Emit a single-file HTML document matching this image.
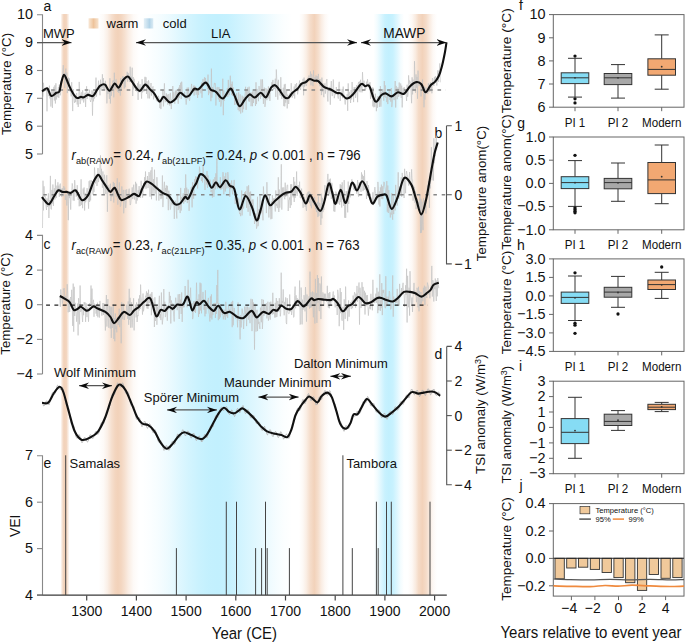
<!DOCTYPE html><html><head><meta charset="utf-8"><style>html,body{margin:0;padding:0;background:#fff;}svg{display:block}text{font-family:"Liberation Sans",sans-serif}</style></head><body><svg width="685" height="643" viewBox="0 0 685 643"><defs><linearGradient id="b1" gradientUnits="userSpaceOnUse" x1="60.5" x2="69.5" y1="0" y2="0"><stop offset="0.0000" stop-color="#f2d2ba" stop-opacity="0.000"/><stop offset="0.1667" stop-color="#f2d2ba" stop-opacity="0.500"/><stop offset="0.3000" stop-color="#f2d2ba" stop-opacity="0.900"/><stop offset="0.4778" stop-color="#f2d2ba" stop-opacity="1.000"/><stop offset="0.6667" stop-color="#f2d2ba" stop-opacity="0.900"/><stop offset="0.8111" stop-color="#f2d2ba" stop-opacity="0.500"/><stop offset="1.0000" stop-color="#f2d2ba" stop-opacity="0.000"/></linearGradient><linearGradient id="b2" gradientUnits="userSpaceOnUse" x1="98.5" x2="139" y1="0" y2="0"><stop offset="0.0000" stop-color="#f2d2ba" stop-opacity="0.000"/><stop offset="0.1235" stop-color="#f2d2ba" stop-opacity="0.120"/><stop offset="0.2222" stop-color="#f2d2ba" stop-opacity="0.350"/><stop offset="0.3210" stop-color="#f2d2ba" stop-opacity="0.700"/><stop offset="0.4074" stop-color="#f2d2ba" stop-opacity="0.920"/><stop offset="0.4765" stop-color="#f2d2ba" stop-opacity="1.000"/><stop offset="0.5556" stop-color="#f2d2ba" stop-opacity="0.920"/><stop offset="0.6420" stop-color="#f2d2ba" stop-opacity="0.700"/><stop offset="0.7407" stop-color="#f2d2ba" stop-opacity="0.400"/><stop offset="0.8642" stop-color="#f2d2ba" stop-opacity="0.120"/><stop offset="1.0000" stop-color="#f2d2ba" stop-opacity="0.000"/></linearGradient><linearGradient id="b3" gradientUnits="userSpaceOnUse" x1="142" x2="292" y1="0" y2="0"><stop offset="0.0000" stop-color="#c2f0fe" stop-opacity="0.000"/><stop offset="0.0533" stop-color="#c2f0fe" stop-opacity="0.060"/><stop offset="0.1200" stop-color="#c2f0fe" stop-opacity="0.170"/><stop offset="0.1867" stop-color="#c2f0fe" stop-opacity="0.330"/><stop offset="0.2400" stop-color="#c2f0fe" stop-opacity="0.500"/><stop offset="0.3067" stop-color="#c2f0fe" stop-opacity="0.700"/><stop offset="0.3733" stop-color="#c2f0fe" stop-opacity="0.860"/><stop offset="0.4400" stop-color="#c2f0fe" stop-opacity="0.970"/><stop offset="0.5067" stop-color="#c2f0fe" stop-opacity="1.000"/><stop offset="0.5733" stop-color="#c2f0fe" stop-opacity="0.950"/><stop offset="0.6267" stop-color="#c2f0fe" stop-opacity="0.820"/><stop offset="0.6933" stop-color="#c2f0fe" stop-opacity="0.660"/><stop offset="0.7600" stop-color="#c2f0fe" stop-opacity="0.500"/><stop offset="0.8267" stop-color="#c2f0fe" stop-opacity="0.330"/><stop offset="0.8800" stop-color="#c2f0fe" stop-opacity="0.190"/><stop offset="0.9400" stop-color="#c2f0fe" stop-opacity="0.070"/><stop offset="1.0000" stop-color="#c2f0fe" stop-opacity="0.000"/></linearGradient><linearGradient id="b4" gradientUnits="userSpaceOnUse" x1="299" x2="329" y1="0" y2="0"><stop offset="0.0000" stop-color="#f2d2ba" stop-opacity="0.000"/><stop offset="0.1333" stop-color="#f2d2ba" stop-opacity="0.150"/><stop offset="0.2500" stop-color="#f2d2ba" stop-opacity="0.400"/><stop offset="0.3667" stop-color="#f2d2ba" stop-opacity="0.750"/><stop offset="0.5100" stop-color="#f2d2ba" stop-opacity="1.000"/><stop offset="0.6333" stop-color="#f2d2ba" stop-opacity="0.750"/><stop offset="0.7500" stop-color="#f2d2ba" stop-opacity="0.400"/><stop offset="0.8667" stop-color="#f2d2ba" stop-opacity="0.150"/><stop offset="1.0000" stop-color="#f2d2ba" stop-opacity="0.000"/></linearGradient><linearGradient id="b5" gradientUnits="userSpaceOnUse" x1="373.5" x2="404" y1="0" y2="0"><stop offset="0.0000" stop-color="#c2f0fe" stop-opacity="0.000"/><stop offset="0.1148" stop-color="#c2f0fe" stop-opacity="0.200"/><stop offset="0.2459" stop-color="#c2f0fe" stop-opacity="0.550"/><stop offset="0.3770" stop-color="#c2f0fe" stop-opacity="0.900"/><stop offset="0.5082" stop-color="#c2f0fe" stop-opacity="1.000"/><stop offset="0.6393" stop-color="#c2f0fe" stop-opacity="0.900"/><stop offset="0.7705" stop-color="#c2f0fe" stop-opacity="0.550"/><stop offset="0.8852" stop-color="#c2f0fe" stop-opacity="0.200"/><stop offset="1.0000" stop-color="#c2f0fe" stop-opacity="0.000"/></linearGradient><linearGradient id="b6" gradientUnits="userSpaceOnUse" x1="408" x2="437" y1="0" y2="0"><stop offset="0.0000" stop-color="#f2d2ba" stop-opacity="0.000"/><stop offset="0.1379" stop-color="#f2d2ba" stop-opacity="0.150"/><stop offset="0.2586" stop-color="#f2d2ba" stop-opacity="0.450"/><stop offset="0.3621" stop-color="#f2d2ba" stop-opacity="0.800"/><stop offset="0.4931" stop-color="#f2d2ba" stop-opacity="1.000"/><stop offset="0.6207" stop-color="#f2d2ba" stop-opacity="0.800"/><stop offset="0.7414" stop-color="#f2d2ba" stop-opacity="0.450"/><stop offset="0.8621" stop-color="#f2d2ba" stop-opacity="0.150"/><stop offset="1.0000" stop-color="#f2d2ba" stop-opacity="0.000"/></linearGradient><linearGradient id="gleg_o" x1="0" x2="1"><stop offset="0" stop-color="#f0cba5" stop-opacity="0.45"/><stop offset="0.5" stop-color="#eec39b"/><stop offset="1" stop-color="#f0cba5" stop-opacity="0.55"/></linearGradient><linearGradient id="gleg_b" x1="0" x2="1"><stop offset="0" stop-color="#bcd9ea" stop-opacity="0.4"/><stop offset="0.6" stop-color="#b3d4e8"/><stop offset="1" stop-color="#bcd9ea" stop-opacity="0.5"/></linearGradient><marker id="ah" viewBox="0 0 10 7" refX="10" refY="3.5" markerWidth="10" markerHeight="7" markerUnits="userSpaceOnUse" orient="auto-start-reverse"><path d="M0,0.2 L10,3.5 L0,6.8 L3.2,3.5 Z" fill="#0a0a0a"/></marker></defs><rect width="685" height="643" fill="#fff"/><rect x="60.5" y="14" width="9" height="581" fill="url(#b1)"/><rect x="98.5" y="14" width="40.5" height="581" fill="url(#b2)"/><rect x="142" y="14" width="150" height="581" fill="url(#b3)"/><rect x="299" y="14" width="30" height="581" fill="url(#b4)"/><rect x="373.5" y="14" width="30.5" height="581" fill="url(#b5)"/><rect x="408" y="14" width="29" height="581" fill="url(#b6)"/><rect x="88.5" y="18.3" width="10" height="10.2" fill="url(#gleg_o)"/><rect x="143.8" y="18.3" width="9.5" height="10.2" fill="url(#gleg_b)"/><g font-family="Liberation Sans, sans-serif" fill="#111"><path d="M37,14.8H42.5V154" fill="none" stroke="#888" stroke-width="1.1"/><text transform="translate(33 19.3) scale(1 1.05)" font-size="14.4" text-anchor="end" >10</text><path d="M37,42.6H42.5" stroke="#888" stroke-width="1.1"/><text transform="translate(33 47.1) scale(1 1.05)" font-size="14.4" text-anchor="end" >9</text><path d="M37,70.5H42.5" stroke="#888" stroke-width="1.1"/><text transform="translate(33 75) scale(1 1.05)" font-size="14.4" text-anchor="end" >8</text><path d="M37,98.3H42.5" stroke="#888" stroke-width="1.1"/><text transform="translate(33 102.8) scale(1 1.05)" font-size="14.4" text-anchor="end" >7</text><path d="M37,126.2H42.5" stroke="#888" stroke-width="1.1"/><text transform="translate(33 130.7) scale(1 1.05)" font-size="14.4" text-anchor="end" >6</text><path d="M37,154H42.5" stroke="#888" stroke-width="1.1"/><text transform="translate(33 158.5) scale(1 1.05)" font-size="14.4" text-anchor="end" >5</text><text transform="translate(43.4 11.4) scale(1 1.05)" font-size="14" text-anchor="start" >a</text><text x="10.8" y="84" font-size="13.3" text-anchor="middle" transform="rotate(-90 10.8 84)">Temperature (°C)</text><path d="M42.5,97.7L43,96.1L43.5,82.8L44,92L44.5,89.6L45,89.5L45.5,88.4L46,88.1L46.5,90L47,111.3L47.5,88L47.9,90.3L48.4,91.9L48.9,96.2L49.4,85.7L49.9,98.4L50.4,94.8L50.9,106.5L51.4,96.2L51.9,90.3L52.4,107.9L52.9,91.5L53.4,95L53.9,86.8L54.4,100.5L54.9,85.3L55.4,103.5L55.9,83.3L56.4,99.5L56.9,91.4L57.4,95.9L57.9,97.3L58.4,87.1L58.8,97.8L59.3,84.7L59.8,90.8L60.3,95.3L60.8,84.7L61.3,79.8L61.8,83.2L62.3,78.8L62.8,70.8L63.3,65.1L63.8,77.2L64.3,73.3L64.8,88L65.3,74.4L65.8,68.6L66.3,83.7L66.8,72.5L67.3,93.1L67.8,82.3L68.3,77.5L68.8,86.4L69.3,78.4L69.7,87.5L70.2,91.6L70.7,88.8L71.2,96.3L71.7,82.2L72.2,94.4L72.7,111.1L73.2,89L73.7,95.8L74.2,100.3L74.7,103L75.2,97.7L75.7,102L76.2,94.6L76.7,93.1L77.2,104.5L77.7,96.9L78.2,107L78.7,102.1L79.2,81.9L79.7,90.8L80.2,104.1L80.6,101.4L81.1,92.7L81.6,92.3L82.1,100.3L82.6,90.3L83.1,94.1L83.6,102.5L84.1,99.8L84.6,97.8L85.1,92.8L85.6,107L86.1,92.4L86.6,86.3L87.1,99L87.6,92.9L88.1,92.7L88.6,94.2L89.1,93.5L89.6,89.7L90.1,99.2L90.6,102L91,100L91.5,99.4L92,90.3L92.5,115.6L93,91.5L93.5,101.3L94,91.4L94.5,98.5L95,96.7L95.5,89.8L96,77.6L96.5,96.6L97,91L97.5,90.6L98,88.5L98.5,80.7L99,86.8L99.5,90.1L100,95.3L100.5,79.7L101,89.3L101.5,84.7L101.9,87.2L102.4,74.3L102.9,88.5L103.4,78.1L103.9,89.7L104.4,84.8L104.9,89.6L105.4,80.8L105.9,87.2L106.4,84.6L106.9,103.4L107.4,90.8L107.9,94L108.4,88.3L108.9,91.6L109.4,99L109.9,78.2L110.4,103.5L110.9,85.4L111.4,95.8L111.9,86.3L112.4,87.4L112.8,81L113.3,80.3L113.8,97.4L114.3,72.7L114.8,88.5L115.3,89.3L115.8,79.7L116.3,79.3L116.8,84.9L117.3,90.6L117.8,91.8L118.3,85.8L118.8,93L119.3,83.7L119.8,83.4L120.3,95.6L120.8,78.1L121.3,90.8L121.8,80L122.3,84L122.8,76.2L123.3,80.6L123.7,76.8L124.2,88.5L124.7,78.9L125.2,87.3L125.7,77.6L126.2,76L126.7,79.1L127.2,71.8L127.7,81.7L128.2,72.9L128.7,79.1L129.2,76L129.7,82.1L130.2,66.7L130.7,81.9L131.2,76.6L131.7,80.6L132.2,67.7L132.7,96L133.2,77.1L133.7,89.4L134.1,78.8L134.6,87.5L135.1,87.1L135.6,85.3L136.1,87.5L136.6,91.3L137.1,90.9L137.6,83.1L138.1,99.9L138.6,81.5L139.1,92.4L139.6,87.1L140.1,84.2L140.6,88.8L141.1,90.9L141.6,98.6L142.1,79.2L142.6,92.4L143.1,86.1L143.6,91.1L144.1,91.5L144.6,79.6L145,76.8L145.5,86.4L146,77.3L146.5,93.9L147,81.2L147.5,88.7L148,98.4L148.5,80.3L149,82.6L149.5,98.4L150,93.6L150.5,91.1L151,83L151.5,95.6L152,89L152.5,87.9L153,86.4L153.5,99.3L154,90.2L154.5,97L155,97.5L155.5,96.9L155.9,95L156.4,100.7L156.9,99.9L157.4,101.7L157.9,99.1L158.4,95.8L158.9,97.4L159.4,101.2L159.9,108.1L160.4,99.3L160.9,109.1L161.4,103.6L161.9,96.4L162.4,99.3L162.9,90L163.4,106.4L163.9,100.1L164.4,83.4L164.9,98L165.4,102L165.9,102.1L166.3,93.3L166.8,101.4L167.3,94.6L167.8,104.7L168.3,101.9L168.8,94L169.3,99.8L169.8,105.6L170.3,92.8L170.8,99.1L171.3,109.1L171.8,99.6L172.3,102.1L172.8,86L173.3,101.1L173.8,92.3L174.3,98.5L174.8,103.7L175.3,90.7L175.8,96.8L176.3,89.8L176.8,99.9L177.2,91.7L177.7,92.9L178.2,103.8L178.7,87.7L179.2,98.1L179.7,85.1L180.2,92.4L180.7,82.7L181.2,99L181.7,81.7L182.2,88.7L182.7,95.2L183.2,93.9L183.7,94.7L184.2,94.1L184.7,91.8L185.2,98.7L185.7,99.4L186.2,104.6L186.7,98.8L187.2,87.6L187.7,98.6L188.1,93.5L188.6,87.5L189.1,98.9L189.6,100.8L190.1,96L190.6,90L191.1,89.2L191.6,83.9L192.1,90.9L192.6,87.9L193.1,91.7L193.6,85.7L194.1,95.6L194.6,85.7L195.1,86.2L195.6,86.7L196.1,94.7L196.6,93.7L197.1,88.5L197.6,98L198.1,91L198.6,95L199,87.9L199.5,90.4L200,87.6L200.5,88.8L201,93.3L201.5,82.6L202,97.8L202.5,86.7L203,78.9L203.5,85.8L204,85.4L204.5,77.3L205,83.5L205.5,77.9L206,85.7L206.5,81.9L207,81.5L207.5,89.2L208,74.6L208.5,95.1L209,84.7L209.4,87.9L209.9,93.3L210.4,89.7L210.9,101.2L211.4,68.6L211.9,97.7L212.4,87.1L212.9,92.8L213.4,90.9L213.9,87L214.4,82.9L214.9,84.3L215.4,83.5L215.9,105.5L216.4,92.6L216.9,87.4L217.4,87.2L217.9,92.6L218.4,99.3L218.9,87.1L219.4,101.9L219.9,93.2L220.3,89.6L220.8,106.6L221.3,104.7L221.8,98.4L222.3,99.2L222.8,78.7L223.3,115.2L223.8,90.4L224.3,100.8L224.8,96.8L225.3,94.7L225.8,97.1L226.3,91.9L226.8,93.9L227.3,88.2L227.8,96.8L228.3,79.9L228.8,93.7L229.3,95.1L229.8,90L230.3,75.7L230.8,89.3L231.2,84L231.7,94.9L232.2,81.6L232.7,96L233.2,87.3L233.7,92.9L234.2,94.7L234.7,105L235.2,96.8L235.7,96.9L236.2,104.7L236.7,93.2L237.2,104.6L237.7,98.8L238.2,110.1L238.7,92.3L239.2,111.3L239.7,109.3L240.2,94.3L240.7,113.5L241.2,107.7L241.7,105.6L242.1,95.6L242.6,112.4L243.1,96.6L243.6,109.2L244.1,97.3L244.6,98.2L245.1,93.5L245.6,86.8L246.1,109.9L246.6,89.7L247.1,97.7L247.6,87.5L248.1,89L248.6,101.3L249.1,86.7L249.6,101.7L250.1,92.9L250.6,92.7L251.1,106.2L251.6,96.3L252.1,92.2L252.5,106.2L253,90.7L253.5,103L254,95.6L254.5,98.8L255,90.8L255.5,106L256,82.3L256.5,104.1L257,88.9L257.5,97.2L258,93.7L258.5,101.2L259,86.1L259.5,89.8L260,91.3L260.5,98.8L261,79.4L261.5,95.5L262,96.8L262.5,79.4L263,94.7L263.4,103.9L263.9,93.3L264.4,87.6L264.9,106.9L265.4,104L265.9,88.3L266.4,90.5L266.9,100.2L267.4,89.5L267.9,96.7L268.4,86.4L268.9,98.5L269.4,88.5L269.9,100.9L270.4,89.6L270.9,87.8L271.4,85.4L271.9,82.2L272.4,86.3L272.9,79.9L273.4,89.5L273.9,85.5L274.3,89L274.8,84.7L275.3,78.7L275.8,96.9L276.3,69.5L276.8,80.4L277.3,81.8L277.8,99.7L278.3,79.8L278.8,90L279.3,89.2L279.8,94.9L280.3,95.7L280.8,77.2L281.3,91.3L281.8,98.9L282.3,94.8L282.8,93.4L283.3,87.7L283.8,106.1L284.3,84.5L284.8,106.4L285.2,83.9L285.7,102.6L286.2,97L286.7,89.6L287.2,108.4L287.7,94.6L288.2,98.3L288.7,104L289.2,97.4L289.7,93.5L290.2,94.6L290.7,97.1L291.2,83.2L291.7,89.5L292.2,97.6L292.7,95.6L293.2,90.9L293.7,95.8L294.2,86.5L294.7,98.5L295.2,84.2L295.6,86.2L296.1,88.4L296.6,83.1L297.1,88.7L297.6,94.4L298.1,91.3L298.6,89.6L299.1,84.2L299.6,80.5L300.1,89.2L300.6,90L301.1,83.6L301.6,83.9L302.1,86.5L302.6,84L303.1,78.8L303.6,95.3L304.1,77.6L304.6,86.7L305.1,80.1L305.6,81.7L306.1,85.8L306.5,85.7L307,82.7L307.5,80.6L308,77.5L308.5,77.4L309,75.4L309.5,79.8L310,81.3L310.5,71.5L311,85.3L311.5,73.9L312,74.9L312.5,80.4L313,86.1L313.5,70.4L314,80.5L314.5,80.6L315,77L315.5,80.7L316,75.4L316.5,83L317,76.2L317.4,76.7L317.9,79.7L318.4,73.9L318.9,82.7L319.4,79.1L319.9,86.2L320.4,79.7L320.9,79.3L321.4,95.1L321.9,77.6L322.4,91.5L322.9,83.2L323.4,94.9L323.9,97.2L324.4,84.8L324.9,83.4L325.4,93.6L325.9,87.5L326.4,81.4L326.9,79L327.4,95.1L327.9,101.5L328.3,88.3L328.8,91L329.3,90L329.8,86.8L330.3,104.7L330.8,88L331.3,81.1L331.8,93.1L332.3,96.1L332.8,90.9L333.3,79.5L333.8,90.4L334.3,98.2L334.8,95.2L335.3,93.2L335.8,94.5L336.3,87L336.8,92.9L337.3,92.9L337.8,96.7L338.3,98.6L338.7,84.8L339.2,81.8L339.7,89.1L340.2,101L340.7,94.9L341.2,96.1L341.7,94.8L342.2,88.9L342.7,98.2L343.2,86.6L343.7,92.5L344.2,96.2L344.7,100.5L345.2,104.5L345.7,99L346.2,99.6L346.7,99.4L347.2,94.1L347.7,110.8L348.2,83.4L348.7,96.9L349.2,91.8L349.6,98.8L350.1,97L350.6,103L351.1,90L351.6,99.4L352.1,82L352.6,93.3L353.1,91.4L353.6,102.1L354.1,87.2L354.6,90.5L355.1,87L355.6,97.9L356.1,93.4L356.6,85L357.1,85.8L357.6,102.2L358.1,84.4L358.6,81.9L359.1,91.4L359.6,81.5L360.1,92.3L360.5,79.8L361,87.3L361.5,86L362,92.4L362.5,72.2L363,83.6L363.5,84.3L364,80.7L364.5,84.7L365,89.9L365.5,87.8L366,88.5L366.5,81.7L367,85.9L367.5,79.2L368,83.9L368.5,84.2L369,83.3L369.5,87.1L370,82.2L370.5,98.9L371,91.9L371.4,88.2L371.9,97.3L372.4,87.5L372.9,106.4L373.4,87.8L373.9,107.3L374.4,99.1L374.9,106.9L375.4,93.7L375.9,100.1L376.4,111.2L376.9,102L377.4,107.8L377.9,96.3L378.4,98.2L378.9,96.3L379.4,106.9L379.9,102.3L380.4,86.1L380.9,106.7L381.4,91.8L381.8,96.2L382.3,94.3L382.8,89L383.3,94.4L383.8,100.7L384.3,81L384.8,96.9L385.3,85.4L385.8,97.8L386.3,96.9L386.8,102.1L387.3,93.9L387.8,104.1L388.3,94L388.8,93.1L389.3,91.2L389.8,99.8L390.3,97.2L390.8,101.7L391.3,88L391.8,107.1L392.3,103.4L392.7,98.4L393.2,96.4L393.7,97.8L394.2,100.1L394.7,94.6L395.2,81L395.7,107.5L396.2,85.9L396.7,90.9L397.2,99.2L397.7,87.7L398.2,87.4L398.7,96.8L399.2,82.5L399.7,90.2L400.2,95.7L400.7,83.5L401.2,98L401.7,85.7L402.2,107.4L402.7,90.9L403.2,87.9L403.6,93.4L404.1,87.2L404.6,87.8L405.1,94.7L405.6,91.4L406.1,94.4L406.6,100.9L407.1,84.7L407.6,96.8L408.1,94.6L408.6,75.4L409.1,84.6L409.6,80.5L410.1,81.6L410.6,83.1L411.1,91.9L411.6,103.2L412.1,77.3L412.6,94.4L413.1,79.6L413.6,90.4L414.1,90.8L414.5,61.2L415,84.2L415.5,92.7L416,74.4L416.5,87.7L417,76.9L417.5,98.7L418,70.6L418.5,81.6L419,86L419.5,81L420,81.2L420.5,82.5L421,96.5L421.5,85L422,84.3L422.5,79.5L423,90.8L423.5,87.7L424,107.3L424.5,86.6L424.9,99.6L425.4,91.4L425.9,87.5L426.4,93.5L426.9,91.8L427.4,93.4L427.9,93.8L428.4,83.3L428.9,92L429.4,86.1L429.9,91.7L430.4,82.2L430.9,90.7L431.4,85.1L431.9,93.3L432.4,78.1L432.9,79.3L433.4,84.4L433.9,86L434.4,77.1L434.9,80.7L435.4,76.1L435.8,79.2L436.3,78L436.8,85.5L437.3,78.5L437.8,70.3L438.3,82L438.8,70.8L439.3,72.7L439.8,63.4L440.3,82.3" fill="none" stroke="#c4c4c4" stroke-width="0.7"/><path d="M42.5,90H446" stroke="#888" stroke-width="1.6" stroke-dasharray="3.6,4.8" stroke-dashoffset="-0.2"/><path d="M42,91.4C42.9,90.9 45.7,87.5 47.2,88.3C48.7,89 49.7,95.2 51.2,95.9C52.7,96.7 54.9,93.5 56.3,92.8C57.7,92 58.5,93.3 59.4,91.4C60.3,89.5 60.7,84.4 61.5,81.6C62.3,78.8 63.2,75.1 64.1,74.8C64.9,74.5 65.7,77.5 66.6,79.5C67.5,81.5 68.6,84.5 69.6,86.7C70.6,88.9 71.5,90.9 72.7,92.8C73.9,94.7 75.4,97.2 76.8,97.9C78.2,98.6 79.7,97 80.9,96.9C82.1,96.8 82.7,97.6 83.9,97.3C85.1,97 86.5,95.1 88,94.9C89.5,94.7 91.6,96.8 93.1,95.9C94.6,95 96,91.4 97.2,89.7C98.4,88 99,86.6 100.3,85.7C101.6,84.8 103.5,83.8 105,84.6C106.5,85.4 107.9,91 109.5,90.8C111.1,90.6 113.1,84.1 114.6,83.6C116.1,83.1 117.3,88.2 118.7,87.7C120.1,87.2 121.3,82.4 122.8,80.5C124.3,78.6 126.4,76.3 127.9,76.5C129.4,76.7 130.6,79.7 132,81.6C133.4,83.5 134.8,86.2 136.1,87.7C137.4,89.2 138.6,91.3 140.1,90.8C141.6,90.3 143.6,84.8 145.3,84.6C147,84.4 148.9,88.2 150.4,89.7C151.9,91.2 153,91.8 154.5,93.8C156,95.8 158.1,101.1 159.6,101.6C161.1,102.1 161.9,96.8 163.6,96.9C165.3,97 167.9,102 169.8,102.4C171.7,102.9 173.2,101.2 174.9,99.6C176.6,98 178.4,93.3 180.1,92.8C181.8,92.3 183.7,96 185.2,96.5C186.7,97 187.8,96.8 189.3,95.5C190.8,94.2 192.9,89.7 194.4,88.7C195.9,87.7 196.6,90.3 198.5,89.3C200.4,88.3 203.6,82.5 205.7,82.6C207.8,82.7 209.1,88.2 210.8,89.7C212.5,91.2 213.9,90.3 215.9,91.8C217.9,93.3 220.6,99 223,98.5C225.4,98 228.3,89.3 230.2,88.7C232.1,88.1 232.8,92 234.3,94.9C235.8,97.8 237.7,105.2 239.4,106.1C241.1,106.9 242.8,102 244.5,100C246.2,98 247.9,94.8 249.6,94.4C251.3,94 252.8,97.8 254.7,97.5C256.6,97.2 258.9,92.8 260.8,92.8C262.7,92.8 264.2,98.1 265.9,97.3C267.6,96.5 269.6,89.7 271.1,87.7C272.6,85.7 273.8,84.9 275.1,85.2C276.5,85.5 277.7,87.8 279.2,89.7C280.7,91.7 282.8,95.5 284.3,96.9C285.8,98.3 287,98.6 288.4,97.9C289.8,97.2 291,94.3 292.5,92.8C294,91.3 296.1,90.2 297.6,88.7C299.1,87.2 300.3,84.7 301.7,83.6C303.1,82.5 304.5,83 305.8,82.2C307.1,81.5 308.1,79.3 309.5,79.1C310.9,78.8 312.7,80.4 314.1,80.7C315.6,81 316.5,80 318.2,81.1C319.9,82.2 322.3,85.8 324.3,87.2C326.3,88.6 328.3,88.3 330.4,89.3C332.4,90.2 334.9,92.2 336.6,92.9C338.3,93.6 339,92.5 340.7,93.4C342.4,94.3 344.8,98.3 346.8,98.5C348.8,98.7 350.5,96.8 352.9,94.4C355.3,92 359.1,85.6 361.1,84.2C363.2,82.8 363.8,85.9 365.2,86.2C366.6,86.5 367.6,83.7 369.3,86.2C371,88.8 373.4,100 375.4,101.5C377.4,103 379.8,96.3 381.5,95C383.2,93.7 383.9,93.2 385.6,93.4C387.3,93.6 389.6,96.6 391.7,96.4C393.8,96.2 395.8,92.7 397.9,92.3C399.9,91.9 402,94.8 404,93.8C406,92.8 408.1,88.2 410.1,86.2C412.2,84.2 414.4,82.4 416.3,82.1C418.2,81.8 419.9,82.5 421.4,84.2C422.9,85.9 424,92.1 425.5,92.3C427,92.5 429.1,86.9 430.6,85.2C432.1,83.5 433.3,83.6 434.7,82.1C436.1,80.6 437.6,78.5 438.8,76C440,73.5 440.8,70.7 441.8,66.8C442.8,62.9 444.1,56.6 444.9,52.5C445.7,48.4 446.2,44 446.5,42.3" fill="none" stroke="#111" stroke-width="2.1" stroke-linejoin="round"/><text transform="translate(43 37.6) scale(1 1.05)" font-size="13" text-anchor="start" >MWP</text><text transform="translate(106.6 27.5) scale(1 1.05)" font-size="13" text-anchor="start" >warm</text><text transform="translate(162.8 27.5) scale(1 1.05)" font-size="13" text-anchor="start" >cold</text><text transform="translate(211 38) scale(1 1.05)" font-size="13" text-anchor="start" >LIA</text><text transform="translate(383.3 37.8) scale(1 1.05)" font-size="13.7" text-anchor="start" >MAWP</text><g stroke="#555" stroke-width="1.25" fill="none"><path d="M37,42.5H71.5" marker-end="url(#ah)"/><path d="M136,42.5H357" marker-start="url(#ah)" marker-end="url(#ah)"/><path d="M361,42.5H446.5" marker-start="url(#ah)" marker-end="url(#ah)"/></g><path d="M446.5,125.8H451.8M446.5,125.8V263.9H451.8M446.5,194.7H451.8" fill="none" stroke="#555" stroke-width="1.1"/><text transform="translate(454.5 130.8) scale(1 1.05)" font-size="14" text-anchor="start" >1</text><text transform="translate(454.5 199.7) scale(1 1.05)" font-size="14" text-anchor="start" >0</text><text transform="translate(454.6 268.9) scale(1 1.05)" font-size="14.2" text-anchor="start" >− 1</text><text transform="translate(434.6 138.3) scale(1 1.05)" font-size="14" text-anchor="start" >b</text><text x="0" y="0" font-size="13.3" text-anchor="middle" transform="translate(486.2 193.5) rotate(-90)">Temperature anom(°C)</text><path d="M42.5,228L43,180.7L43.5,210.4L44,186.3L44.5,196.7L45,196L45.5,196.5L46,206.7L46.5,210L47,198.4L47.5,207L47.9,203.6L48.4,193.4L48.9,218L49.4,200.1L49.9,206.3L50.4,175.9L50.9,208.5L51.4,209.4L51.9,189.9L52.4,203.6L52.9,184.5L53.4,205.9L53.9,193.1L54.4,188.3L54.9,199.5L55.4,179.3L55.9,197.8L56.4,197.8L56.9,185.6L57.4,191.7L57.9,182.3L58.4,191.5L58.8,185.7L59.3,196.8L59.8,185.1L60.3,183.6L60.8,192.9L61.3,188.9L61.8,196.9L62.3,188.2L62.8,191L63.3,196.2L63.8,186.1L64.3,190.4L64.8,187.7L65.3,200L65.8,194.8L66.3,194.6L66.8,205.5L67.3,194.7L67.8,192.8L68.3,220.2L68.8,193.2L69.3,198.1L69.7,192L70.2,197.7L70.7,209.6L71.2,195.1L71.7,191.4L72.2,183.4L72.7,186.2L73.2,200.4L73.7,189.4L74.2,200.7L74.7,180.2L75.2,188.2L75.7,191.9L76.2,196.7L76.7,194.4L77.2,185.2L77.7,191.6L78.2,200L78.7,192L79.2,206.3L79.7,196L80.2,205.9L80.6,197.4L81.1,179.3L81.6,204.9L82.1,199.5L82.6,208.2L83.1,188.6L83.6,194.4L84.1,187.5L84.6,210.5L85.1,192.8L85.6,202.3L86.1,200.6L86.6,199.3L87.1,188.2L87.6,197.6L88.1,198.5L88.6,208.7L89.1,181.2L89.6,202L90.1,180.2L90.6,200.4L91,186.9L91.5,180.4L92,182.5L92.5,181L93,194.6L93.5,179.6L94,191.9L94.5,167.5L95,175.6L95.5,183.4L96,180.8L96.5,178L97,186L97.5,177.8L98,168L98.5,182.1L99,177.7L99.5,177.4L100,164.2L100.5,155.4L101,178L101.5,168.8L101.9,178.3L102.4,187.7L102.9,171.5L103.4,184.1L103.9,195.1L104.4,174.7L104.9,181.9L105.4,186.6L105.9,194.1L106.4,176L106.9,175.2L107.4,211.8L107.9,184.9L108.4,192.4L108.9,187.6L109.4,189.1L109.9,187.1L110.4,183.7L110.9,201.1L111.4,194.4L111.9,197L112.4,193L112.8,194.6L113.3,181.9L113.8,202.5L114.3,183L114.8,187.8L115.3,189.2L115.8,192.8L116.3,197.2L116.8,185.4L117.3,178.3L117.8,204.7L118.3,190.5L118.8,198.6L119.3,182.4L119.8,194L120.3,206.6L120.8,205.5L121.3,198.9L121.8,186.4L122.3,193.5L122.8,200.7L123.3,189.9L123.7,213.3L124.2,203.1L124.7,197.8L125.2,189.8L125.7,207.9L126.2,203.3L126.7,189.3L127.2,197.3L127.7,198.3L128.2,197.4L128.7,190.5L129.2,188.7L129.7,196.1L130.2,205.1L130.7,203.7L131.2,198.9L131.7,195.6L132.2,187.4L132.7,199.1L133.2,189.8L133.7,184.7L134.1,198L134.6,199.5L135.1,191.1L135.6,181.8L136.1,203.7L136.6,183.6L137.1,200.6L137.6,197.1L138.1,190.2L138.6,193.8L139.1,186.1L139.6,193.7L140.1,189.8L140.6,197.8L141.1,180.8L141.6,188.6L142.1,191L142.6,197.6L143.1,192.7L143.6,182.9L144.1,188.3L144.6,177.2L145,187.2L145.5,171.5L146,188.8L146.5,183.8L147,183.9L147.5,176L148,188.1L148.5,183.6L149,172.1L149.5,177.3L150,196.6L150.5,172.5L151,170.3L151.5,199.2L152,167.1L152.5,187L153,193.8L153.5,179.1L154,190.3L154.5,169.7L155,193.7L155.5,186.1L155.9,189L156.4,200.4L156.9,177.2L157.4,187L157.9,188.3L158.4,187.6L158.9,200.6L159.4,190.1L159.9,189.5L160.4,191.6L160.9,199.1L161.4,190L161.9,198.4L162.4,175.5L162.9,207.1L163.4,193.6L163.9,187.3L164.4,181.8L164.9,195.5L165.4,188.1L165.9,191.5L166.3,185.4L166.8,199L167.3,185.8L167.8,192.5L168.3,210.2L168.8,190.7L169.3,196L169.8,197L170.3,209.6L170.8,207.3L171.3,202.2L171.8,204.5L172.3,204.9L172.8,204.7L173.3,200L173.8,201L174.3,218.9L174.8,204.3L175.3,200.7L175.8,203.2L176.3,210.2L176.8,218.5L177.2,194.6L177.7,194.4L178.2,210.1L178.7,205.3L179.2,208.5L179.7,204.1L180.2,213.1L180.7,187.9L181.2,210.6L181.7,197.1L182.2,198.9L182.7,197.3L183.2,193.4L183.7,203.7L184.2,200L184.7,188.3L185.2,201.8L185.7,174.4L186.2,198L186.7,187.7L187.2,203.1L187.7,202.1L188.1,189.4L188.6,192.5L189.1,210.8L189.6,195.9L190.1,193.7L190.6,193.4L191.1,187.3L191.6,186.7L192.1,207.4L192.6,182.3L193.1,194L193.6,198.7L194.1,190.8L194.6,179.1L195.1,185.6L195.6,176.4L196.1,184.2L196.6,176.9L197.1,178.6L197.6,188.5L198.1,180.2L198.6,174.4L199,178.5L199.5,166.6L200,171.5L200.5,175.9L201,176.3L201.5,181L202,177L202.5,182.5L203,164.8L203.5,171.5L204,175.3L204.5,181.1L205,190L205.5,174.8L206,176.7L206.5,184.4L207,171L207.5,187.9L208,175.5L208.5,181.9L209,181.3L209.4,186.7L209.9,179.5L210.4,181.4L210.9,192.1L211.4,191.1L211.9,190L212.4,197.6L212.9,181.3L213.4,179.4L213.9,196.9L214.4,184.6L214.9,177.1L215.4,189.3L215.9,173.3L216.4,186.3L216.9,158.5L217.4,188.6L217.9,182.4L218.4,184.4L218.9,183.7L219.4,187.6L219.9,188.9L220.3,177.2L220.8,189.8L221.3,186.6L221.8,189.1L222.3,188.3L222.8,172.1L223.3,172.7L223.8,194.3L224.3,183.3L224.8,176.3L225.3,191.5L225.8,172.8L226.3,187.7L226.8,188.4L227.3,187L227.8,172.1L228.3,176.5L228.8,187.9L229.3,183.7L229.8,196.9L230.3,183.3L230.8,189L231.2,183.3L231.7,180.4L232.2,191.2L232.7,194.4L233.2,187.3L233.7,184.8L234.2,179.9L234.7,192.9L235.2,203.9L235.7,193.9L236.2,193.9L236.7,201.6L237.2,206.5L237.7,197.6L238.2,208.7L238.7,198.7L239.2,210.9L239.7,214.1L240.2,213L240.7,216.2L241.2,203.1L241.7,190.5L242.1,215.4L242.6,204.1L243.1,208.6L243.6,208.2L244.1,197L244.6,192.4L245.1,195.4L245.6,191.2L246.1,200.2L246.6,207.9L247.1,186.3L247.6,196.3L248.1,211.8L248.6,185.3L249.1,200L249.6,192.4L250.1,215.8L250.6,191.5L251.1,205.6L251.6,206.1L252.1,199.8L252.5,210.8L253,199.3L253.5,207.2L254,209.5L254.5,223.9L255,213.2L255.5,217.5L256,213.6L256.5,228.6L257,226.5L257.5,196.8L258,226.2L258.5,223.5L259,209.3L259.5,219.3L260,195.6L260.5,213.7L261,208.9L261.5,213.2L262,200.4L262.5,209.7L263,220.3L263.4,186.5L263.9,196.2L264.4,198.2L264.9,195.5L265.4,195L265.9,194.1L266.4,213.1L266.9,182.2L267.4,200.1L267.9,198.7L268.4,198.7L268.9,217.5L269.4,194.7L269.9,209.3L270.4,204.8L270.9,219.3L271.4,201.4L271.9,218.8L272.4,195.2L272.9,203.3L273.4,198.5L273.9,203.1L274.3,198.3L274.8,205.4L275.3,211.5L275.8,190.4L276.3,205.8L276.8,204L277.3,208.1L277.8,201.8L278.3,177.3L278.8,212L279.3,189.5L279.8,207.7L280.3,197.2L280.8,194.3L281.3,164.3L281.8,209.6L282.3,187.5L282.8,196.7L283.3,196.5L283.8,187.3L284.3,197.2L284.8,199.2L285.2,182.7L285.7,196.9L286.2,192.3L286.7,188.6L287.2,185.1L287.7,184.9L288.2,211L288.7,200.2L289.2,199.8L289.7,197.4L290.2,208L290.7,184.3L291.2,205.2L291.7,184.2L292.2,194.4L292.7,189.4L293.2,197.4L293.7,177L294.2,202L294.7,181.7L295.2,197.8L295.6,187.5L296.1,193.4L296.6,171.5L297.1,195.9L297.6,190.9L298.1,185.1L298.6,190.1L299.1,191.2L299.6,181.7L300.1,197.8L300.6,198.1L301.1,195.3L301.6,188.6L302.1,195.2L302.6,201.2L303.1,207.8L303.6,199.9L304.1,201.4L304.6,196.8L305.1,206.9L305.6,200.4L306.1,209L306.5,210.9L307,193.7L307.5,201.9L308,191.9L308.5,202.1L309,191.3L309.5,203.2L310,192.6L310.5,205.5L311,204.7L311.5,208.2L312,196.2L312.5,202.8L313,197.7L313.5,201.7L314,205.4L314.5,197.1L315,200.2L315.5,209.3L316,202.9L316.5,212.1L317,207.4L317.4,201.9L317.9,217.1L318.4,196.5L318.9,215.9L319.4,203.1L319.9,202.9L320.4,208.1L320.9,224.9L321.4,193.8L321.9,218.4L322.4,197.8L322.9,212.2L323.4,207.2L323.9,209.9L324.4,198.6L324.9,185.2L325.4,200.3L325.9,195.5L326.4,188.5L326.9,188.9L327.4,179.7L327.9,173.9L328.3,181.9L328.8,195.7L329.3,179.5L329.8,193.8L330.3,178.6L330.8,188.8L331.3,198.9L331.8,182.8L332.3,186.5L332.8,197.6L333.3,191.5L333.8,211.3L334.3,195.7L334.8,211.8L335.3,203.3L335.8,191.6L336.3,192.8L336.8,199.4L337.3,202.3L337.8,203.9L338.3,202L338.7,197.9L339.2,202.5L339.7,204.8L340.2,184.2L340.7,202.1L341.2,185.1L341.7,207.5L342.2,182.3L342.7,198.6L343.2,196.1L343.7,206L344.2,180.1L344.7,217.7L345.2,198.8L345.7,217.9L346.2,191.2L346.7,199.6L347.2,191.1L347.7,212.4L348.2,181.6L348.7,204L349.2,190.1L349.6,192.6L350.1,197.4L350.6,183.3L351.1,185.1L351.6,179.6L352.1,179.3L352.6,184.8L353.1,186.2L353.6,189.6L354.1,188.4L354.6,184.6L355.1,191L355.6,184.3L356.1,186.2L356.6,193.6L357.1,189.5L357.6,180L358.1,194L358.6,196.7L359.1,182.3L359.6,185.3L360.1,182.1L360.5,185.2L361,191.9L361.5,172.4L362,179L362.5,174.7L363,191.1L363.5,176.1L364,190L364.5,170.3L365,189.8L365.5,187.6L366,187.2L366.5,199L367,181L367.5,196L368,190.5L368.5,185L369,191.5L369.5,197.2L370,193.4L370.5,202.4L371,197.6L371.4,197.7L371.9,203.1L372.4,204.2L372.9,192.3L373.4,205.1L373.9,200.3L374.4,190.5L374.9,187.1L375.4,191.9L375.9,193.9L376.4,197.9L376.9,199.5L377.4,196.7L377.9,181.9L378.4,188L378.9,204.6L379.4,191.4L379.9,206.5L380.4,187.4L380.9,194.7L381.4,184.6L381.8,198.9L382.3,186.2L382.8,199.2L383.3,189.6L383.8,181.9L384.3,182.2L384.8,186.6L385.3,189.2L385.8,194.7L386.3,195L386.8,181.1L387.3,211.7L387.8,185.5L388.3,213L388.8,190L389.3,202L389.8,211.2L390.3,217.5L390.8,212.6L391.3,214.5L391.8,193L392.3,217L392.7,219.7L393.2,195.9L393.7,214.1L394.2,203.5L394.7,206.1L395.2,210.4L395.7,184.9L396.2,198L396.7,199.4L397.2,205.6L397.7,196.7L398.2,172.3L398.7,198.8L399.2,193.4L399.7,186.7L400.2,195.7L400.7,192.2L401.2,177.3L401.7,196.7L402.2,172.9L402.7,178.1L403.2,178.4L403.6,177L404.1,198L404.6,168.8L405.1,182.7L405.6,193.2L406.1,174.5L406.6,171.1L407.1,174.6L407.6,176.2L408.1,180.7L408.6,185.6L409.1,177.5L409.6,172.1L410.1,185.1L410.6,183.1L411.1,183.1L411.6,169.3L412.1,179.8L412.6,179.9L413.1,200.7L413.6,185.4L414.1,190.5L414.5,187.2L415,202.9L415.5,191L416,209.1L416.5,204.3L417,203.4L417.5,198.6L418,208.3L418.5,201.5L419,203.7L419.5,208.2L420,195.2L420.5,233.1L421,198.8L421.5,232.7L422,201.7L422.5,220.9L423,230.2L423.5,198.4L424,202.4L424.5,206.6L424.9,205.2L425.4,201.5L425.9,213.5L426.4,196.2L426.9,197.5L427.4,185.5L427.9,194.9L428.4,181.1L428.9,184.4L429.4,207.9L429.9,176.2L430.4,188.4L430.9,164.3L431.4,147.2L431.9,180.3L432.4,165.3L432.9,158.6L433.4,180.6L433.9,138.4L434.4,163.2L434.9,154.9L435.4,156.2L435.8,143L436.3,135.6L436.8,149.7" fill="none" stroke="#c4c4c4" stroke-width="0.7"/><path d="M42.5,194.7H446" stroke="#888" stroke-width="1.6" stroke-dasharray="3.5,4.8" stroke-dashoffset="-0.8"/><path d="M42,197C42.5,197.7 43.9,199.9 45.1,201.1C46.3,202.3 47.7,205 49.2,204.2C50.7,203.3 52.8,198.3 54.3,196C55.8,193.7 57,191 58.4,190.3C59.8,189.6 61.1,191.6 62.5,191.9C63.9,192.2 65.2,191.7 66.6,191.9C68,192.1 69.2,193.1 70.7,192.9C72.2,192.7 73.9,189.3 75.8,190.5C77.7,191.7 79.9,199.3 81.9,200.1C83.9,200.9 86.1,198.3 88,195.4C89.9,192.5 91.4,186.1 93.1,182.7C94.8,179.3 96.7,175.2 98.2,174.9C99.7,174.6 100.9,178.7 102.3,180.7C103.7,182.7 105,184.9 106.4,186.8C107.8,188.7 109.1,191.7 110.5,191.9C111.9,192.1 113.2,187.1 114.6,187.8C116,188.5 117.5,193.9 118.7,196C119.9,198.1 120,199.9 121.7,200.1C123.4,200.3 126.9,198 128.9,197C131,196 132.3,194.1 134,193.9C135.7,193.7 137.7,196.8 139.1,196C140.5,195.2 141,191.2 142.2,188.8C143.4,186.4 144.8,182.5 146.3,181.7C147.8,180.8 149.5,182.5 151.4,183.7C153.3,184.9 155.6,187.3 157.5,188.8C159.4,190.3 160.7,191.7 162.6,192.9C164.5,194.1 166.8,194.1 168.8,196C170.9,197.9 173,202.9 174.9,204.2C176.8,205.4 178.4,204.7 180.1,203.5C181.8,202.3 183.8,197.8 185.2,197C186.6,196.2 186.9,200.1 188.3,198.6C189.7,197.1 192,190.5 193.4,187.8C194.8,185.2 195.4,184.9 196.5,182.7C197.6,180.5 198.7,175.7 199.9,174.5C201.1,173.3 202.3,174.5 203.6,175.5C204.9,176.5 206.3,178.6 207.7,180.7C209.1,182.8 210.4,187.5 211.8,187.8C213.2,188.1 214.5,182.4 215.9,182.3C217.3,182.2 218.4,187.5 220,187.2C221.6,186.8 224.1,180.4 225.7,180.2C227.3,180 228.4,184.4 229.8,185.8C231.2,187.2 232.7,184.9 234.3,188.8C235.9,192.7 237.5,208.1 239.4,209.3C241.3,210.5 243.5,196.5 245.5,196C247.5,195.5 249.7,202.1 251.6,206.2C253.5,210.3 255.2,220 256.7,220.5C258.2,221 259.4,213.5 260.8,209.3C262.2,205.1 263.4,196.1 264.9,195.4C266.4,194.7 268.3,204.3 270,205.2C271.7,206.1 273.2,202.3 275.1,200.7C277,199.1 279.6,196.7 281.3,195.4C283,194.1 283.7,193.6 285.4,192.9C287.1,192.2 289.8,192.5 291.5,191.5C293.2,190.5 294.1,186.6 295.6,186.8C297.1,187 299,190.1 300.7,192.9C302.4,195.7 304.3,203.1 305.8,203.5C307.3,203.9 308.5,195.7 309.9,195.4C311.3,195.1 312.4,199.1 314.1,201.7C315.8,204.3 318.5,210.9 320.2,210.9C321.9,210.9 322.9,206.3 324.3,201.7C325.7,197.1 327.4,184.8 328.8,183.4C330.2,182.1 331.4,190.2 332.5,193.6C333.6,197 334.1,204.4 335.5,203.8C336.9,203.2 339,190.1 340.7,189.9C342.4,189.7 343.9,204 345.8,202.8C347.7,201.6 350,185 351.9,182.9C353.8,180.8 355.3,190.8 357,190.5C358.7,190.2 360.4,181.5 362.1,181.3C363.8,181.1 365.5,185.8 367.2,189.5C368.9,193.2 370.6,202.2 372.3,203.4C374,204.6 375.5,198.1 377.4,196.6C379.3,195.1 382.1,194.8 383.6,194.6C385.1,194.4 385.2,193.2 386.6,195.6C388,198 389.8,208.7 391.7,208.9C393.6,209.1 395.8,201.7 397.9,196.6C399.9,191.5 401.8,180.2 404,178.2C406.2,176.2 409.1,180.8 411.2,184.4C413.2,188 414.6,194.7 416.3,199.7C418,204.7 419.7,214.7 421.4,214.4C423.1,214.1 424.8,205.3 426.5,197.7C428.2,190.1 430.2,176.5 431.6,169C433,161.5 433.7,157.1 434.7,152.7C435.7,148.3 437.2,144.2 437.7,142.5" fill="none" stroke="#111" stroke-width="2.1" stroke-linejoin="round"/><text transform="translate(71.5 160) scale(1 1.05)" font-size="13.2"><tspan font-style="italic">r</tspan><tspan font-size="9.2" dy="3.5">ab(RAW)</tspan><tspan dy="-3.5">= 0.24, </tspan><tspan font-style="italic">r</tspan><tspan font-size="9.2" dy="3.5">ab(21LPF)</tspan><tspan dy="-3.5">= 0.24, </tspan><tspan font-style="italic">p</tspan><tspan> &lt; 0.001 , n = 796</tspan></text><path d="M37,235.4H42.5V374" fill="none" stroke="#888" stroke-width="1.1"/><text transform="translate(33 239.9) scale(1 1.05)" font-size="14.4" text-anchor="end" >4</text><path d="M37,270.1H42.5" stroke="#888" stroke-width="1.1"/><text transform="translate(33 274.6) scale(1 1.05)" font-size="14.4" text-anchor="end" >2</text><path d="M37,304.7H42.5" stroke="#888" stroke-width="1.1"/><text transform="translate(33 309.2) scale(1 1.05)" font-size="14.4" text-anchor="end" >0</text><path d="M37,339.4H42.5" stroke="#888" stroke-width="1.1"/><text transform="translate(33 343.9) scale(1 1.05)" font-size="14.4" text-anchor="end" >−2</text><path d="M37,374H42.5" stroke="#888" stroke-width="1.1"/><text transform="translate(33 378.5) scale(1 1.05)" font-size="14.4" text-anchor="end" >−4</text><text transform="translate(43.6 249.2) scale(1 1.05)" font-size="14" text-anchor="start" >c</text><text x="0" y="0" font-size="13.3" text-anchor="middle" transform="translate(10 303.7) rotate(-90)">Temperature (°C)</text><path d="M59.8,296.8L60.3,306.7L60.8,289.4L61.3,296.7L61.8,296.7L62.3,303.6L62.8,300.7L63.3,288.7L63.8,289.6L64.3,288.2L64.8,300.4L65.2,295.8L65.7,299.6L66.2,301.5L66.7,295.8L67.2,284.2L67.7,293.1L68.2,312.3L68.7,300.5L69.2,299.2L69.7,311.9L70.2,298.2L70.7,297L71.2,306.8L71.7,289.8L72.2,303L72.7,325.9L73.2,283.6L73.7,331.7L74.2,286.8L74.7,316L75.2,302.8L75.7,311.6L76.1,312.3L76.6,321.7L77.1,313.6L77.6,303.6L78.1,335.4L78.6,298.2L79.1,309L79.6,324.3L80.1,285.5L80.6,311.9L81.1,311L81.6,308.7L82.1,315.2L82.6,322L83.1,308.5L83.6,315.2L84.1,302.1L84.6,304.5L85.1,302.4L85.6,321.9L86.1,303.3L86.6,313.4L87,317.1L87.5,307.5L88,311L88.5,321.7L89,309.1L89.5,303.1L90,304.2L90.5,303.4L91,285.5L91.5,304.6L92,288.6L92.5,306.2L93,302.6L93.5,299.8L94,316.8L94.5,303.7L95,305.6L95.5,305.2L96,313.6L96.5,309.4L97,316L97.5,302.7L97.9,317.3L98.4,309.5L98.9,304.9L99.4,317.6L99.9,300.9L100.4,306.8L100.9,309.7L101.4,312.9L101.9,315.7L102.4,311.5L102.9,303L103.4,315L103.9,303.3L104.4,306L104.9,317.4L105.4,330.5L105.9,307.2L106.4,295L106.9,326.6L107.4,308.9L107.9,299.1L108.3,317L108.8,327.8L109.3,305.8L109.8,312.4L110.3,328.6L110.8,306.5L111.3,337.9L111.8,307.1L112.3,327.9L112.8,326.1L113.3,304.2L113.8,338.9L114.3,318L114.8,341.3L115.3,313.5L115.8,329.1L116.3,326.3L116.8,332.4L117.3,316.8L117.8,319.2L118.3,325L118.8,318.1L119.2,308.7L119.7,327.2L120.2,316.8L120.7,317.5L121.2,343.3L121.7,302.3L122.2,313.5L122.7,319.2L123.2,303.3L123.7,310.4L124.2,320L124.7,317.1L125.2,315.3L125.7,314.1L126.2,314L126.7,304.7L127.2,308.7L127.7,318.8L128.2,301.4L128.7,324.8L129.2,288.8L129.7,319.9L130.1,297.8L130.6,327.7L131.1,322.4L131.6,302.3L132.1,327.6L132.6,318.7L133.1,312.9L133.6,298.3L134.1,330.4L134.6,310.8L135.1,310.1L135.6,304.6L136.1,317.4L136.6,302.4L137.1,322L137.6,315.2L138.1,316.1L138.6,298.7L139.1,310.5L139.6,295.2L140.1,309L140.6,284.6L141,296.4L141.5,300.5L142,304.8L142.5,314.6L143,293.5L143.5,311.3L144,307.8L144.5,304.7L145,299.9L145.5,295.8L146,296.7L146.5,291.4L147,308.4L147.5,292.9L148,308.8L148.5,289.7L149,303L149.5,302.6L150,294.4L150.5,305.5L151,293.7L151.4,315.2L151.9,292.1L152.4,300.9L152.9,298.5L153.4,311.1L153.9,302.3L154.4,327L154.9,297.3L155.4,321L155.9,318.5L156.4,305.6L156.9,324.8L157.4,306.6L157.9,311.9L158.4,316.3L158.9,302.6L159.4,295.8L159.9,318.1L160.4,314.1L160.9,320.1L161.4,292.5L161.9,311.6L162.3,324.4L162.8,319.5L163.3,316.8L163.8,289L164.3,311.4L164.8,301.7L165.3,317.1L165.8,316.1L166.3,305.2L166.8,308L167.3,320.7L167.8,306.9L168.3,305.2L168.8,309.4L169.3,291.9L169.8,302.8L170.3,295.9L170.8,323.5L171.3,300.4L171.8,303L172.3,310.8L172.8,303.3L173.2,308.1L173.7,316.1L174.2,321.5L174.7,307.3L175.2,304.6L175.7,297.7L176.2,301.6L176.7,302.3L177.2,310.2L177.7,303L178.2,294.3L178.7,306.9L179.2,319L179.7,294L180.2,307.9L180.7,299.7L181.2,314L181.7,292.4L182.2,321.9L182.7,303L183.2,307.3L183.6,305L184.1,307.3L184.6,305.8L185.1,286L185.6,298.7L186.1,301.1L186.6,297.8L187.1,307.3L187.6,299.3L188.1,279.8L188.6,293.5L189.1,298.1L189.6,299.4L190.1,297.6L190.6,287.7L191.1,305L191.6,304.9L192.1,303.1L192.6,319.1L193.1,317.2L193.6,301.3L194.1,303L194.5,311.7L195,300.9L195.5,313L196,304.8L196.5,282.7L197,303.2L197.5,300.5L198,299.4L198.5,317L199,294.3L199.5,314.1L200,282.6L200.5,310.4L201,283.4L201.5,313.3L202,301.3L202.5,298.2L203,291.9L203.5,300.3L204,309.8L204.5,305.9L205,316.4L205.4,290.3L205.9,313.8L206.4,306L206.9,303.6L207.4,299.9L207.9,308.8L208.4,297.9L208.9,312.5L209.4,314.7L209.9,321.5L210.4,296.4L210.9,317.9L211.4,294.4L211.9,319.5L212.4,308.4L212.9,315.1L213.4,303.9L213.9,303.1L214.4,312L214.9,302.9L215.4,318L215.9,302.9L216.3,314L216.8,285.1L217.3,303.5L217.8,269.9L218.3,320.2L218.8,303L219.3,319.1L219.8,307.5L220.3,317.3L220.8,304.3L221.3,312.9L221.8,308.5L222.3,315.1L222.8,309.4L223.3,319.4L223.8,316.2L224.3,316.7L224.8,309.7L225.3,319.7L225.8,301.8L226.3,310.9L226.7,316.3L227.2,310.7L227.7,317.9L228.2,308.3L228.7,304.9L229.2,313.5L229.7,309.5L230.2,310.9L230.7,309L231.2,302.4L231.7,302.1L232.2,327.2L232.7,300.8L233.2,325.3L233.7,314.6L234.2,307.9L234.7,315.4L235.2,315.6L235.7,318.6L236.2,314.4L236.7,316.6L237.2,319L237.6,327.3L238.1,302.5L238.6,313L239.1,320.8L239.6,320.3L240.1,339.4L240.6,315.3L241.1,327.5L241.6,320.6L242.1,308.6L242.6,313.1L243.1,313.1L243.6,329L244.1,320.2L244.6,306.7L245.1,310.8L245.6,314L246.1,306.5L246.6,326.1L247.1,310.7L247.6,306.5L248.1,317.7L248.5,319.6L249,307.4L249.5,315.2L250,323.2L250.5,302.1L251,298.8L251.5,301.8L252,331.1L252.5,299.3L253,316.6L253.5,302.5L254,311.3L254.5,349.6L255,303.8L255.5,312.9L256,331.6L256.5,316.5L257,309.8L257.5,331.1L258,318.4L258.5,323.8L259,321.9L259.4,325.3L259.9,328.9L260.4,307.6L260.9,311.8L261.4,322.2L261.9,299.1L262.4,329L262.9,318.5L263.4,299.8L263.9,315.9L264.4,309.6L264.9,303.9L265.4,313.8L265.9,313.5L266.4,303.3L266.9,318.4L267.4,311.4L267.9,301.7L268.4,320.7L268.9,318L269.4,316.6L269.8,302.3L270.3,319.6L270.8,301.6L271.3,305.9L271.8,312.9L272.3,314.5L272.8,292.8L273.3,314.1L273.8,309.3L274.3,311.4L274.8,317.6L275.3,302.8L275.8,317.3L276.3,298L276.8,317L277.3,313.3L277.8,300.9L278.3,309.6L278.8,311.7L279.3,298.2L279.8,306L280.3,316.3L280.7,312.3L281.2,272.7L281.7,306.2L282.2,301L282.7,303L283.2,289.4L283.7,305L284.2,315.3L284.7,301.9L285.2,305.5L285.7,297.4L286.2,322.7L286.7,324.1L287.2,298.2L287.7,311.6L288.2,313L288.7,313.7L289.2,313.5L289.7,294.5L290.2,311.6L290.7,309L291.2,308.3L291.6,315L292.1,309.1L292.6,304.7L293.1,306.9L293.6,317.4L294.1,316.3L294.6,295.5L295.1,286.6L295.6,308.3L296.1,295.3L296.6,305.7L297.1,298.2L297.6,299L298.1,304.5L298.6,299.5L299.1,306.8L299.6,280.5L300.1,324.6L300.6,324L301.1,287.5L301.6,297.3L302.1,324.4L302.5,299.7L303,309.8L303.5,307.5L304,295.2L304.5,299.6L305,311.4L305.5,287.1L306,299.1L306.5,321.6L307,294.5L307.5,306.3L308,303.7L308.5,306.2L309,296.3L309.5,308.6L310,271.6L310.5,307.7L311,292.2L311.5,307.3L312,304.9L312.5,291.5L312.9,306.7L313.4,317.3L313.9,292.4L314.4,297.1L314.9,323.6L315.4,278.9L315.9,305.8L316.4,293.1L316.9,322.9L317.4,275L317.9,302.9L318.4,278L318.9,309.5L319.4,311.1L319.9,283.4L320.4,286L320.9,319.1L321.4,276.5L321.9,300.9L322.4,297.1L322.9,292.4L323.4,295.1L323.8,305.9L324.3,293.7L324.8,299.1L325.3,293.7L325.8,298.6L326.3,299.8L326.8,302L327.3,285.8L327.8,301.3L328.3,307.5L328.8,293.1L329.3,308.3L329.8,292L330.3,301.3L330.8,305.1L331.3,300.1L331.8,301.3L332.3,301.3L332.8,293.6L333.3,291.5L333.8,300.7L334.3,295.4L334.7,302.5L335.2,307.4L335.7,303.3L336.2,301.7L336.7,302.3L337.2,315L337.7,289.8L338.2,292.8L338.7,299.6L339.2,326.2L339.7,307.3L340.2,288.1L340.7,313.2L341.2,292L341.7,319L342.2,320.8L342.7,306.9L343.2,307.1L343.7,329.8L344.2,299.3L344.7,308.2L345.2,318.9L345.6,286.6L346.1,308.2L346.6,310.5L347.1,309.3L347.6,321.1L348.1,308.9L348.6,300.4L349.1,316.8L349.6,304.3L350.1,307L350.6,302L351.1,308.5L351.6,309.1L352.1,300.4L352.6,308.1L353.1,295.6L353.6,301.8L354.1,296.1L354.6,292.2L355.1,294.4L355.6,307.7L356,293.7L356.5,300.9L357,285.9L357.5,301.7L358,293.5L358.5,292.6L359,282.5L359.5,324.6L360,287.7L360.5,293.4L361,308L361.5,302.8L362,282.2L362.5,301.5L363,286.9L363.5,291.7L364,305.9L364.5,290.8L365,314.5L365.5,292.7L366,306.3L366.5,295.4L366.9,305.1L367.4,295L367.9,305.8L368.4,315.6L368.9,307.7L369.4,308.3L369.9,305L370.4,309.3L370.9,293.8L371.4,302.7L371.9,304.6L372.4,310.3L372.9,279.8L373.4,302.7L373.9,297.4L374.4,302.9L374.9,302.8L375.4,296.8L375.9,293.6L376.4,302.8L376.9,287.8L377.4,296.8L377.8,313.2L378.3,291.7L378.8,310.2L379.3,301.5L379.8,274.3L380.3,310.9L380.8,300.3L381.3,308.1L381.8,283.1L382.3,315.1L382.8,289.9L383.3,292.9L383.8,289.8L384.3,296.3L384.8,306.1L385.3,308.2L385.8,276.2L386.3,306.4L386.8,296.5L387.3,303.2L387.8,304.6L388.3,296.7L388.7,301.4L389.2,291.1L389.7,292L390.2,300.6L390.7,309.4L391.2,308.1L391.7,303.1L392.2,301.3L392.7,275.4L393.2,316.7L393.7,296.5L394.2,301.9L394.7,301.5L395.2,302L395.7,303.3L396.2,297.8L396.7,302.8L397.2,288.9L397.7,302.6L398.2,305.6L398.7,296.9L399.1,305.6L399.6,283.9L400.1,294.6L400.6,297.3L401.1,294.1L401.6,288L402.1,292.4L402.6,286L403.1,282.8L403.6,294L404.1,294.2L404.6,306.7L405.1,298.4L405.6,285.3L406.1,294.9L406.6,268.7L407.1,322.5L407.6,275.8L408.1,297.1L408.6,307.3L409.1,287.7L409.6,315.6L410,271.2L410.5,294.9L411,300.2L411.5,304.1L412,297.5L412.5,311.9L413,297.4L413.5,290.8L414,282.9L414.5,293.5L415,290.4L415.5,295.9L416,292.7L416.5,302.2L417,287.8L417.5,289.2L418,307.4L418.5,286.8L419,311.3L419.5,290.9L420,305.7L420.5,302.9L420.9,292L421.4,303.8L421.9,296.6L422.4,296.9L422.9,301.4L423.4,287.8L423.9,297.9L424.4,285.7L424.9,305.1L425.4,291.1L425.9,286.6L426.4,296.7L426.9,298L427.4,282.6L427.9,284.7L428.4,286L428.9,294.5L429.4,292.9L429.9,298.3L430.4,292.7L430.9,286L431.4,284.3L431.8,265.9L432.3,296.6L432.8,280.1L433.3,282.2L433.8,301.5L434.3,282.7L434.8,289.1L435.3,278.5L435.8,293.6L436.3,301L436.8,280.4L437.3,296.3L437.8,278L438.3,284.6L438.8,288.2" fill="none" stroke="#c4c4c4" stroke-width="0.7"/><path d="M42.5,305.2H428" stroke="#222" stroke-width="1.3" stroke-dasharray="3.9,4.4" stroke-dashoffset="-3.6"/><path d="M59.8,296C60.6,296.4 62.9,297.6 64.5,298.6C66.1,299.6 68.1,300.2 69.6,302.1C71.1,304 72.3,308.8 73.7,309.9C75.1,311 76.6,309.3 77.8,308.8C79,308.3 79.5,306.5 80.9,306.8C82.3,307.1 84.7,310 86,310.5C87.3,311 87.8,310.6 89,309.9C90.2,309.2 92,306.6 93.5,306.4C95,306.2 96.2,307.9 98.2,308.8C100.2,309.7 103.4,310.5 105.4,311.9C107.5,313.3 109.1,315.1 110.5,317C111.9,318.9 112.6,322.9 114,323.1C115.4,323.3 117.1,319.9 118.7,318C120.3,316.1 121.9,312.4 123.8,311.9C125.7,311.4 128.2,315.2 129.9,315C131.6,314.8 132.5,311.9 134,310.5C135.5,309.1 137.4,308.3 139.1,306.8C140.8,305.3 142.3,303.1 144.2,301.7C146.1,300.3 148.4,296.2 150.4,298.6C152.4,301 154.4,314.1 156.1,316C157.8,317.9 159.2,310.8 160.6,309.9C162,309 163.3,311.4 164.7,310.9C166.1,310.4 167.5,307.1 168.8,306.8C170.2,306.5 171.5,309.2 172.8,308.8C174.2,308.4 175.9,305.4 176.9,304.7C177.9,304 178.1,304.8 179.1,304.7C180.1,304.6 181.9,305.6 183.2,304.3C184.5,303 185.9,297.2 186.9,296.6C187.9,296 188.4,298.4 189.3,300.7C190.2,303 191.2,310.2 192.4,310.5C193.6,310.8 195.3,303.3 196.5,302.3C197.7,301.3 198.2,304.6 199.5,304.3C200.8,304 202.5,300.3 204,300.7C205.5,301.1 207.1,305.1 208.7,306.8C210.3,308.5 212.2,311.1 213.8,310.9C215.4,310.7 216.6,305.5 218.3,305.8C220,306.1 222,311.9 224,312.9C226,313.9 228,311.2 230.2,311.9C232.4,312.6 235.1,316 237.3,317C239.5,318 241.1,319 243.5,318C245.9,317 249.4,311 251.6,310.9C253.8,310.8 254.8,317.2 256.7,317.4C258.6,317.6 260.8,312.5 262.9,311.9C264.9,311.3 267.3,314.2 269,313.9C270.7,313.6 271.7,310.5 273.1,309.9C274.5,309.3 275.8,311.2 277.2,310.5C278.6,309.8 279.8,306.1 281.3,305.8C282.8,305.5 284.7,308.3 286.4,308.8C288.1,309.3 289.6,310.1 291.5,308.8C293.4,307.5 295.6,301.5 297.6,301.1C299.7,300.7 301.6,306.8 303.8,306.4C306,306 309.2,299.7 310.9,298.6C312.6,297.6 312.9,300 314.1,300.1C315.3,300.2 316.5,299.1 318.2,299C319.9,298.9 322.3,299.5 324.3,299.7C326.3,299.9 328.9,300.2 330.4,300.1C331.9,300 332.3,298.5 333.5,299C334.7,299.5 336.1,301.1 337.6,303.1C339.1,305.2 341,310.8 342.7,311.3C344.4,311.8 346.3,307.4 347.8,306.2C349.3,305 350.1,305.7 351.9,304.2C353.7,302.7 356.4,297.2 358.6,297C360.8,296.8 363.1,302.2 365.2,303.1C367.3,304 369.3,303 371.3,302.1C373.3,301.2 375.7,298.7 377.4,298C379.1,297.3 380,297.6 381.5,298C383,298.4 384.7,299.5 386.6,300.1C388.5,300.7 390.9,301.9 392.8,301.5C394.7,301.1 396,299.6 397.9,298C399.8,296.4 402,292.9 404,291.9C406,290.9 408.2,291.7 410.1,291.9C412,292.1 413.4,292.5 415.3,293.3C417.2,294.1 419.5,296.6 421.4,296.6C423.3,296.6 425,294.4 426.5,293.3C428,292.2 429.4,291.3 430.6,289.9C431.8,288.5 432.2,285.9 433.6,284.7C435,283.5 437.9,283 438.8,282.7" fill="none" stroke="#111" stroke-width="2.1" stroke-linejoin="round"/><text transform="translate(71.5 250) scale(1 1.05)" font-size="13.2"><tspan font-style="italic">r</tspan><tspan font-size="9.2" dy="3.5">ac(RAW)</tspan><tspan dy="-3.5">= 0.23, </tspan><tspan font-style="italic">r</tspan><tspan font-size="9.2" dy="3.5">ac(21LPF)</tspan><tspan dy="-3.5">= 0.35, </tspan><tspan font-style="italic">p</tspan><tspan> &lt; 0.001 , n = 763</tspan></text><path d="M446.7,346.4H451.8M446.7,346.4V484.8H451.8" fill="none" stroke="#555" stroke-width="1.1"/><text transform="translate(454.5 351.4) scale(1 1.05)" font-size="14.2" text-anchor="start" >4</text><path d="M446.7,381H451.8" stroke="#555" stroke-width="1.1"/><text transform="translate(454.5 386) scale(1 1.05)" font-size="14.2" text-anchor="start" >2</text><path d="M446.7,415.6H451.8" stroke="#555" stroke-width="1.1"/><text transform="translate(454.5 420.6) scale(1 1.05)" font-size="14.2" text-anchor="start" >0</text><path d="M446.7,450.2H451.8" stroke="#555" stroke-width="1.1"/><text transform="translate(454.6 455.2) scale(1 1.05)" font-size="14.2" text-anchor="start" >− 2</text><text transform="translate(454.6 489.8) scale(1 1.05)" font-size="14.2" text-anchor="start" >− 4</text><text transform="translate(434.4 359.3) scale(1 1.05)" font-size="14" text-anchor="start" >d</text><text x="0" y="0" font-size="13.3" text-anchor="middle" transform="translate(485.3 414.2) rotate(-90)">TSI anomaly (W/m<tspan font-size="9" dy="-4">3</tspan><tspan dy="4">)</tspan></text><path d="M42.5,402.8L43,404.2L43.5,405.9L44,405.5L44.5,405.5L45,404.1L45.5,402.7L46,401.2L46.5,401.2L47,400.8L47.5,402L48,403L48.5,404.1L49,405L49.5,403.4L50,402.1L50.5,400.1L51,397.2L51.5,395.1L52,393.8L52.5,392.5L53,393.6L53.5,394.1L54,394.6L54.5,394.5L55,393.8L55.5,392.6L56,390.7L56.5,388.5L57,386.3L57.5,385.2L58,385.5L58.5,386.2L59,387.4L59.5,388.4L60,389.2L60.5,389.9L61,389L61.5,388.1L62,387.3L62.5,387.4L63,388.5L63.5,389.9L64,392.9L64.5,396.2L65,399.6L65.5,402.1L66,404.3L66.5,404.9L67,405.1L67.5,405L68,406.6L68.5,407.8L69,409.8L69.5,413.5L70,416.8L70.5,419.6L71,422.9L71.5,424.6L72,425L72.5,425L73,425.2L73.5,425.3L74,426.6L74.5,428.7L75,431.3L75.5,434.1L76,436.7L76.5,437.6L77,438.3L77.5,437.3L78,436.6L78.5,435.6L79,434.6L79.5,435.2L80,437.1L80.5,438.7L81,440.7L81.5,441.6L82,442.8L82.5,442.1L83,441.1L83.5,439.8L84,437.9L84.5,437.7L85,437.4L85.5,438L86,439.1L86.5,440.4L87,441.6L87.5,441.9L88,441.5L88.5,439.6L89,437.5L89.5,436L90,434.9L90.5,434.8L91,435L91.5,436.6L92,437.7L92.5,438.4L93,438.5L93.5,437.7L94,436.3L94.5,434.3L95,432.8L95.5,432.1L96,431.3L96.5,431.9L97,432.8L97.5,434.1L98,434.5L98.5,433.7L99,432.4L99.5,430.1L100,427.7L100.5,424.9L101,423.4L101.5,422.6L102,423L102.5,423.8L103,424.2L103.5,423.6L104,423.3L104.5,420.8L105,418.4L105.5,415.8L106,413.5L106.5,411.4L107,410.6L107.5,410L108,409.7L108.5,409.3L109,408.7L109.5,406.7L110,405.2L110.5,401.8L111,398.9L111.5,396.4L112,394.7L112.5,393.9L113,394L113.5,394.4L114,395.1L114.5,394.4L115,393.3L115.5,391L116,388.8L116.5,386.5L117,384.6L117.5,382.8L118,383.5L118.5,384.1L119,385.3L119.5,386.5L120,386.8L120.5,387.3L121,386.1L121.5,385.3L122,383.7L122.5,382.9L123,383.3L123.5,385.1L124,386.9L124.5,389L125,391.6L125.5,392.8L126,393.7L126.5,393.1L127,392.7L127.5,392L128,391.7L128.5,392.8L129,395L129.5,397.8L130,400.9L130.5,403.1L131,405.2L131.5,405.9L132,405.8L132.5,405.7L133,405.6L133.5,406L134,406.7L134.5,408.6L135,411.8L135.5,414.9L136,417.7L136.5,419.3L137,419.1L137.5,418.8L138,418.2L138.5,417.7L139,417.7L139.5,417.9L140,419.2L140.5,421.6L141,423.8L141.5,425.6L142,426.7L142.5,425.6L143,425.1L143.5,423.4L144,421.9L144.5,421.1L145,421.7L145.5,423L146,424.3L146.5,425.9L147,427.6L147.5,428.4L148,427.2L148.5,426.2L149,424.8L149.5,423.6L150,424L150.5,424.7L151,426L151.5,427.7L152,430.1L152.5,431L153,432.7L153.5,432.6L154,431.4L154.5,430.5L155,429.7L155.5,430.5L156,431.8L156.5,433L157,436L157.5,438.6L158,441.1L158.5,441.6L159,442.3L159.5,441.5L160,440.8L160.5,440.4L161,440.6L161.5,441.7L162,443.2L162.5,445.5L163,447.7L163.5,448.8L164,450.4L164.5,449.3L165,448.4L165.5,447L166,445.6L166.5,445.9L167,445.8L167.5,447.5L168,448.9L168.5,450.1L169,449.9L169.5,449.9L170,448.3L170.5,446.4L171,444.1L171.5,442.9L172,441.6L172.5,441.4L173,442.4L173.5,443.4L174,444.3L174.5,444.4L175,443.9L175.5,441.4L176,439.5L176.5,437.4L177,435.7L177.5,434.1L178,434.4L178.5,435.2L179,436.4L179.5,437.7L180,437.3L180.5,436.8L181,435.1L181.5,433.2L182,431.1L182.5,430L183,429.6L183.5,430.3L184,431.5L184.5,433.4L185,435.1L185.5,436L186,434.9L186.5,434.2L187,432.7L187.5,431.1L188,431.2L188.5,431.4L189,432L189.5,433.8L190,435.4L190.5,436.5L191,438L191.5,437.8L192,436.7L192.5,435.1L193,433.6L193.5,433L194,434L194.5,434.3L195,436.4L195.5,438.1L196,440.3L196.5,440.3L197,440.1L197.5,439.3L198,437.6L198.5,436.7L199,435.9L199.5,436.1L200,437.4L200.5,438.9L201,440.4L201.5,442L202,441.2L202.5,441.2L203,439.6L203.5,437.9L204,436.1L204.5,434.6L205,434.4L205.5,435.2L206,435.8L206.5,436.9L207,437.7L207.5,436L208,434.9L208.5,432.8L209,430.3L209.5,428.5L210,427.2L210.5,426.1L211,425.9L211.5,426.8L212,427.1L212.5,426.9L213,427L213.5,424.8L214,422.4L214.5,419.9L215,418L215.5,415.7L216,415.5L216.5,415.9L217,416.4L217.5,417.1L218,417.4L218.5,415.7L219,415L219.5,412.4L220,409.9L220.5,408.3L221,407.4L221.5,407L222,407.6L222.5,408.9L223,409.8L223.5,410.8L224,410.2L224.5,409.3L225,408.3L225.5,407.3L226,406.7L226.5,406.7L227,407.8L227.5,409.3L228,411.5L228.5,413.5L229,414.2L229.5,414.5L230,413.6L230.5,412.6L231,411.6L231.5,410L232,410.1L232.5,411.3L233,412.5L233.5,414.3L234,415.1L234.5,416.6L235,415.7L235.5,414.4L236,412.5L236.5,410.7L237,409.2L237.5,408.4L238,408.6L238.5,410.2L239,411.6L239.5,412.5L240,412.6L240.5,411.4L241,409.9L241.5,408.3L242,406.9L242.5,406.3L243,405.5L243.5,407.1L244,408.7L244.5,410.4L245,412.6L245.5,413.6L246,413.3L246.5,412.1L247,411.1L247.5,410.2L248,409.6L248.5,410.5L249,411.4L249.5,413.4L250,415.7L250.5,417.7L251,418.1L251.5,417.7L252,417.4L252.5,416.1L253,415.3L253.5,415.6L254,415.7L254.5,417.1L255,419.2L255.5,421.1L256,423.1L256.5,423.3L257,423.7L257.5,423.1L258,422.3L258.5,421.9L259,422L259.5,422.4L260,424L260.5,425.9L261,428L261.5,429.9L262,430.5L262.5,430.3L263,429.2L263.5,427.9L264,427.2L264.5,426.1L265,427.9L265.5,428.8L266,430.9L266.5,432.4L267,434.5L267.5,434.9L268,433.9L268.5,432.6L269,430.9L269.5,430.4L270,429.6L270.5,430.1L271,431.3L271.5,433.3L272,435.2L272.5,436L273,436.6L273.5,435.5L274,434L274.5,432.6L275,431.9L275.5,431.5L276,431.8L276.5,433.2L277,434.8L277.5,436.3L278,437.4L278.5,437.4L279,436.5L279.5,434.9L280,433.7L280.5,431.9L281,431.7L281.5,432.8L282,434.2L282.5,436.2L283,437.4L283.5,439.2L284,438.7L284.5,437.9L285,436.9L285.5,435.3L286,434.9L286.5,434L287,434.4L287.5,436.1L288,437.3L288.5,438.2L289,438.4L289.5,437.3L290,434.8L290.5,431.9L291,429.3L291.5,427.1L292,425.3L292.5,423.7L293,423.4L293.5,423L294,421.8L294.5,420.5L295,418.9L295.5,416.7L296,413.8L296.5,411.1L297,409.6L297.5,408.4L298,408.4L298.5,409.1L299,409.7L299.5,410.9L300,409.7L300.5,409.5L301,407.2L301.5,404.7L302,402.4L302.5,400.3L303,399.4L303.5,400.5L304,401.5L304.5,402.3L305,403.6L305.5,402.4L306,401.6L306.5,399.4L307,397.3L307.5,394.9L308,394.6L308.5,393.5L309,394.7L309.5,396.3L310,398.3L310.5,399.2L311,400.8L311.5,400L312,398.9L312.5,398.1L313,396.9L313.5,396.6L314,397.5L314.5,399.1L315,401L315.5,403L316,405.1L316.5,404.5L317,404.9L317.5,403.3L318,401.3L318.5,398.7L319,397.5L319.5,396.7L320,397.5L320.5,398L321,398.6L321.5,399.6L322,398.7L322.5,397.1L323,395.3L323.5,393.4L324,392.1L324.5,391.3L325,390.4L325.5,391.9L326,393.2L326.5,394.3L327,395L327.5,395.4L328,394.4L328.5,393.3L329,391.7L329.5,390.7L330,390.8L330.5,392.3L331,394.2L331.5,397.1L332,399.6L332.5,401.9L333,402.3L333.5,403.6L334,403.5L334.5,403.3L335,403.8L335.5,405.6L336,408L336.5,410.2L337,413.7L337.5,417.1L338,419.5L338.5,421.1L339,422.2L339.5,422L340,421.9L340.5,421.5L341,422.6L341.5,423.6L342,425.7L342.5,427.8L343,429.4L343.5,430.4L344,431.3L344.5,430L345,428.5L345.5,426.7L346,425.4L346.5,425.8L347,426.5L347.5,427.2L348,428L348.5,428.7L349,428.1L349.5,427.1L350,425.2L350.5,422.7L351,419.7L351.5,417.2L352,415.9L352.5,415L353,415L353.5,415.6L354,416.3L354.5,416.2L355,416.2L355.5,415.8L356,414.2L356.5,412.7L357,411.7L357.5,411L358,412.2L358.5,412.7L359,413.3L359.5,413.6L360,413.1L360.5,412.2L361,409.6L361.5,406.9L362,405.1L362.5,403.5L363,401.6L363.5,401.6L364,402.5L364.5,403.2L365,402.9L365.5,402.9L366,402.4L366.5,400.3L367,398.2L367.5,396.5L368,396.8L368.5,397.6L369,398.9L369.5,400.8L370,403.2L370.5,405.4L371,406.1L371.5,405.9L372,405.1L372.5,403.9L373,403.1L373.5,403.8L374,403.7L374.5,406L375,408.1L375.5,410.4L376,411.6L376.5,412.1L377,412.2L377.5,411.6L378,410.3L378.5,410.1L379,410.2L379.5,410.4L380,412.1L380.5,414.2L381,415.9L381.5,417.6L382,417.3L382.5,417.2L383,416.2L383.5,414.6L384,413.7L384.5,413L385,414.2L385.5,415.6L386,417L386.5,418.8L387,419.3L387.5,418.4L388,417L388.5,415.5L389,413.3L389.5,412L390,411.4L390.5,411L391,411.9L391.5,413.3L392,413.9L392.5,414.6L393,414.1L393.5,413L394,410.8L394.5,408.6L395,407.1L395.5,406.7L396,407.2L396.5,407.7L397,409L397.5,410.3L398,409.8L398.5,409.1L399,408L399.5,405.7L400,403.2L400.5,401.9L401,401.6L401.5,401.6L402,402.2L402.5,403.2L403,404.4L403.5,403.4L404,402.8L404.5,401L405,398.9L405.5,397.2L406,395.9L406.5,395.2L407,394.9L407.5,395.6L408,396.9L408.5,397.6L409,397.9L409.5,396.8L410,394.4L410.5,392.5L411,390.2L411.5,389.1L412,389.9L412.5,389.9L413,391.6L413.5,393.2L414,394.4L414.5,394.7L415,394.3L415.5,393.6L416,392.4L416.5,390.7L417,391L417.5,390.2L418,392.1L418.5,393.4L419,395.2L419.5,396.5L420,396.3L420.5,395.1L421,394.1L421.5,392.4L422,390.4L422.5,390.4L423,390.3L423.5,390.8L424,392.6L424.5,394L425,395.4L425.5,395.5L426,393.9L426.5,392.7L427,391.3L427.5,389.2L428,389.3L428.5,388.9L429,390L429.5,391.8L430,393.1L430.5,394.9L431,394.5L431.5,393.3L432,392.2L432.5,390.6L433,389.5L433.5,389.5L434,389L434.5,390.5L435,392.6L435.5,394.7L436,394.8L436.5,395.4L437,395.2L437.5,394.2L438,392.6L438.5,392.2L439,392.4L439.5,393L440,394.6" fill="none" stroke="#b5b5b5" stroke-width="0.9"/><path d="M42,402.7C43,402.7 46.2,404.4 48.2,402.7C50.2,401 52.4,395.1 54.3,392.5C56.2,389.9 58.3,386.8 59.8,386.8C61.3,386.8 62,388.5 63.5,392.5C65,396.5 66.7,404.4 68.6,410.9C70.5,417.4 72.5,426.5 74.7,431.3C76.9,436.1 79.2,438.9 81.9,439.9C84.6,440.8 88.4,438.4 91.1,437C93.8,435.6 95.8,434.6 98.2,431.3C100.6,428 103.2,422.4 105.4,417C107.6,411.6 109.5,403.7 111.5,398.6C113.5,393.5 115.8,388.7 117.3,386.4C118.8,384.1 119.3,384 120.7,384.7C122.1,385.4 123.9,387.1 125.8,390.4C127.7,393.7 130.1,400.3 132,404.7C133.9,409.1 135.4,413.9 137.1,417C138.8,420.1 140.3,422.1 142.2,423.5C144.1,424.9 146.2,423.9 148.3,425.2C150.4,426.5 152.4,428.4 154.5,431.3C156.6,434.2 158.6,439.7 160.6,442.6C162.6,445.5 164.7,448.5 166.7,448.7C168.7,448.9 170.7,445.8 172.8,443.6C174.9,441.4 177.2,437.3 179.1,435.4C181,433.5 182.1,432.4 184.2,432.3C186.2,432.2 188.5,433.9 191.4,435C194.3,436.1 198.9,439.4 201.6,439.1C204.3,438.8 205.7,436.2 207.7,433.4C209.7,430.6 211.9,425.5 213.8,422.1C215.7,418.7 217.2,415.3 218.9,412.9C220.6,410.5 222.3,408 224,407.8C225.7,407.6 227.5,411 229.2,411.9C230.9,412.8 232.8,413.5 234.3,413.3C235.8,413.1 237.1,411.7 238.4,410.9C239.8,410.1 240.7,408.1 242.4,408.4C244.1,408.7 246.6,411.1 248.6,412.9C250.6,414.7 252.7,416.8 254.7,419C256.7,421.2 258.8,424.1 260.8,426.2C262.9,428.2 264.6,430 267,431.3C269.4,432.6 272.7,433.2 275.1,433.8C277.5,434.4 279.2,434.5 281.3,435C283.4,435.5 285.7,437.9 287.4,437C289.1,436.1 290.1,433 291.5,429.3C292.9,425.6 293.9,419.1 295.6,415C297.3,410.9 300.2,407 301.7,404.7C303.2,402.4 303.2,402.7 304.4,401.3C305.6,399.9 307.4,396.9 308.8,396.5C310.2,396.1 311.7,398.1 313.1,399.1C314.6,400.1 316,402.9 317.5,402.4C319,401.8 320.2,397.4 321.9,395.8C323.5,394.2 325.8,392.4 327.4,392.6C329,392.8 330.2,394 331.7,396.9C333.1,399.8 334.6,405.5 336.1,410.1C337.6,414.7 338.9,421.2 340.5,424.3C342.1,427.4 344.4,428.9 346,428.7C347.6,428.5 349.1,425.6 350.4,423.2C351.7,420.8 352.4,415.9 353.6,414.4C354.8,412.9 356.1,415.5 357.4,414.4C358.7,413.3 359.7,410.4 361.3,407.9C362.9,405.3 365,399.7 366.8,399.1C368.6,398.6 370.3,402.4 372.3,404.6C374.3,406.8 376.6,410.3 378.8,412.3C381,414.3 383.2,416.6 385.4,416.6C387.6,416.6 389.8,413.9 392,412.3C394.2,410.7 396.3,409 398.5,406.8C400.7,404.6 402.9,401.6 405.1,399.1C407.3,396.7 409.5,393 411.7,392.1C413.9,391.2 416.2,393.5 418.2,393.6C420.2,393.7 421.5,393 423.7,392.6C425.9,392.2 429.4,391.5 431.4,391.5C433.4,391.5 434.4,391.9 435.8,392.6C437.2,393.3 439.4,395.3 440.1,395.8" fill="none" stroke="#111" stroke-width="2.1" stroke-linejoin="round"/><text transform="translate(54 376.7) scale(1 1.05)" font-size="13" text-anchor="start" >Wolf Minimum</text><text transform="translate(143.8 402) scale(1 1.05)" font-size="13" text-anchor="start" >Spörer Minimum</text><text transform="translate(224 387) scale(1 1.05)" font-size="13" text-anchor="start" >Maunder Minimum</text><text transform="translate(293.9 368) scale(1 1.05)" font-size="13" text-anchor="start" >Dalton Minimum</text><g stroke="#555" stroke-width="1.25" fill="none"><path d="M79.1,385.7H112" marker-start="url(#ah)" marker-end="url(#ah)"/><path d="M167.1,409.9H216.9" marker-start="url(#ah)" marker-end="url(#ah)"/><path d="M258.4,397H298.6" marker-start="url(#ah)" marker-end="url(#ah)"/><path d="M330.4,376.3H350.9" marker-start="url(#ah)" marker-end="url(#ah)"/></g><path d="M37,455.8H42.5V595" fill="none" stroke="#888" stroke-width="1.1"/><path d="M37,595.2H446.8" fill="none" stroke="#3a3a3a" stroke-width="1.3"/><text transform="translate(33 460.3) scale(1 1.05)" font-size="14.4" text-anchor="end" >7</text><path d="M37,502.2H42.5" stroke="#888" stroke-width="1.1"/><text transform="translate(33 506.7) scale(1 1.05)" font-size="14.4" text-anchor="end" >6</text><path d="M37,548.6H42.5" stroke="#888" stroke-width="1.1"/><text transform="translate(33 553.1) scale(1 1.05)" font-size="14.4" text-anchor="end" >5</text><path d="M37,595H42.5" stroke="#888" stroke-width="1.1"/><text transform="translate(33 599.5) scale(1 1.05)" font-size="14.4" text-anchor="end" >4</text><text transform="translate(43.4 468.4) scale(1 1.05)" font-size="14" text-anchor="start" >e</text><text x="0" y="0" font-size="14" text-anchor="middle" transform="translate(20.2 525.8) rotate(-90)">VEI</text><path d="M86.7,595.5V600.5" stroke="#444" stroke-width="1.2"/><text transform="translate(86.7 615.6) scale(1 1.05)" font-size="14" text-anchor="middle" >1300</text><path d="M136.4,595.5V600.5" stroke="#444" stroke-width="1.2"/><text transform="translate(136.4 615.6) scale(1 1.05)" font-size="14" text-anchor="middle" >1400</text><path d="M186.1,595.5V600.5" stroke="#444" stroke-width="1.2"/><text transform="translate(186.1 615.6) scale(1 1.05)" font-size="14" text-anchor="middle" >1500</text><path d="M235.8,595.5V600.5" stroke="#444" stroke-width="1.2"/><text transform="translate(235.8 615.6) scale(1 1.05)" font-size="14" text-anchor="middle" >1600</text><path d="M285.5,595.5V600.5" stroke="#444" stroke-width="1.2"/><text transform="translate(285.5 615.6) scale(1 1.05)" font-size="14" text-anchor="middle" >1700</text><path d="M335.2,595.5V600.5" stroke="#444" stroke-width="1.2"/><text transform="translate(335.2 615.6) scale(1 1.05)" font-size="14" text-anchor="middle" >1800</text><path d="M384.9,595.5V600.5" stroke="#444" stroke-width="1.2"/><text transform="translate(384.9 615.6) scale(1 1.05)" font-size="14" text-anchor="middle" >1900</text><path d="M434.6,595.5V600.5" stroke="#444" stroke-width="1.2"/><text transform="translate(434.6 615.6) scale(1 1.05)" font-size="14" text-anchor="middle" >2000</text><text transform="translate(244.4 639.4) scale(1 1.05)" font-size="15" text-anchor="middle" >Year (CE)</text><g stroke="#444" stroke-width="1"><path d="M65.7,455.3V595"/><path d="M176.4,548.1V595"/><path d="M226.3,501.7V595"/><path d="M236.5,501.7V595"/><path d="M255.6,548.1V595"/><path d="M261.6,548.1V595"/><path d="M265.5,501.7V595"/><path d="M267.2,548.1V595"/><path d="M289.4,548.1V595"/><path d="M342.9,455.3V595"/><path d="M352.3,548.1V595"/><path d="M376.4,501.7V595"/><path d="M378.2,548.1V595"/><path d="M386.5,501.7V595"/><path d="M391.3,501.7V595"/><path d="M430,501.7V595"/></g><text transform="translate(69.6 467.5) scale(1 1.05)" font-size="13" text-anchor="start" >Samalas</text><text transform="translate(346.4 467.8) scale(1 1.05)" font-size="13" text-anchor="start" >Tambora</text></g><g font-family="Liberation Sans, sans-serif" fill="#111"><rect x="553.3" y="14.6" width="130.7" height="92.6" fill="none" stroke="#666" stroke-width="1"/><path d="M549,14.6H553.3" stroke="#666" stroke-width="1"/><text transform="translate(545.6 19.3) scale(1 1.05)" font-size="14.4" text-anchor="end" >10</text><path d="M549,37.8H553.3" stroke="#666" stroke-width="1"/><text transform="translate(545.6 42.5) scale(1 1.05)" font-size="14.4" text-anchor="end" >9</text><path d="M549,60.9H553.3" stroke="#666" stroke-width="1"/><text transform="translate(545.6 65.6) scale(1 1.05)" font-size="14.4" text-anchor="end" >8</text><path d="M549,84H553.3" stroke="#666" stroke-width="1"/><text transform="translate(545.6 88.8) scale(1 1.05)" font-size="14.4" text-anchor="end" >7</text><path d="M549,107.2H553.3" stroke="#666" stroke-width="1"/><text transform="translate(545.6 111.9) scale(1 1.05)" font-size="14.4" text-anchor="end" >6</text><path d="M575,107.2V111.2" stroke="#666" stroke-width="1"/><path d="M618,107.2V111.2" stroke="#666" stroke-width="1"/><path d="M661.7,107.2V111.2" stroke="#666" stroke-width="1"/></g><g stroke="#333" stroke-width="1" fill="none"><path d="M575,58.3V72.8M575,83.6V97.1"/><path d="M568,58.3H582M568,97.1H582"/><rect x="561.2" y="72.8" width="27.6" height="10.8" fill="#86dcf4"/><path d="M561.2,77.8H588.8"/></g><circle cx="575" cy="77.8" r="0.9" fill="#333"/><circle cx="575" cy="56.1" r="1.65" fill="#111"/><circle cx="575" cy="98.8" r="1.65" fill="#111"/><circle cx="575" cy="102.9" r="1.65" fill="#111"/><g stroke="#333" stroke-width="1" fill="none"><path d="M618,64.6V73.5M618,84.6V98.1"/><path d="M611,64.6H625M611,98.1H625"/><rect x="604.2" y="73.5" width="27.6" height="11.1" fill="#a8a8a8"/><path d="M604.2,77.8H631.8"/></g><circle cx="618" cy="77.8" r="0.9" fill="#333"/><g stroke="#333" stroke-width="1" fill="none"><path d="M661.7,34.9V58.8M661.7,75.2V89.2"/><path d="M654.7,34.9H668.7M654.7,89.2H668.7"/><rect x="647.9" y="58.8" width="27.6" height="16.4" fill="#f2a872"/><path d="M647.9,69.4H675.5"/></g><circle cx="661.7" cy="66.7" r="0.9" fill="#333"/><g font-family="Liberation Sans, sans-serif" fill="#111"><rect x="553.3" y="137" width="130.7" height="92.8" fill="none" stroke="#666" stroke-width="1"/><path d="M549,137H553.3" stroke="#666" stroke-width="1"/><text transform="translate(545.6 141.7) scale(1 1.05)" font-size="14.4" text-anchor="end" >1.0</text><path d="M549,160.2H553.3" stroke="#666" stroke-width="1"/><text transform="translate(545.6 164.9) scale(1 1.05)" font-size="14.4" text-anchor="end" >0.5</text><path d="M549,183.4H553.3" stroke="#666" stroke-width="1"/><text transform="translate(545.6 188.1) scale(1 1.05)" font-size="14.4" text-anchor="end" >0.0</text><path d="M549,206.6H553.3" stroke="#666" stroke-width="1"/><text transform="translate(545.6 211.3) scale(1 1.05)" font-size="14.4" text-anchor="end" >−0.5</text><path d="M549,229.8H553.3" stroke="#666" stroke-width="1"/><text transform="translate(545.6 234.5) scale(1 1.05)" font-size="14.4" text-anchor="end" >−1.0</text><path d="M575,229.8V233.8" stroke="#666" stroke-width="1"/><path d="M618,229.8V233.8" stroke="#666" stroke-width="1"/><path d="M661.7,229.8V233.8" stroke="#666" stroke-width="1"/></g><g stroke="#333" stroke-width="1" fill="none"><path d="M575,160.6V176.7M575,188.6V206.4"/><path d="M568,160.6H582M568,206.4H582"/><rect x="561.2" y="176.7" width="27.6" height="11.9" fill="#86dcf4"/><path d="M561.2,182.6H588.8"/></g><circle cx="575" cy="182.7" r="0.9" fill="#333"/><circle cx="575" cy="155.3" r="1.65" fill="#111"/><circle cx="575" cy="207.8" r="1.65" fill="#111"/><circle cx="575" cy="209.5" r="1.65" fill="#111"/><circle cx="575" cy="211.2" r="1.65" fill="#111"/><circle cx="575" cy="212.8" r="1.65" fill="#111"/><g stroke="#333" stroke-width="1" fill="none"><path d="M618,163V178.4M618,188.8V201.3"/><path d="M611,163H625M611,201.3H625"/><rect x="604.2" y="178.4" width="27.6" height="10.4" fill="#a8a8a8"/><path d="M604.2,182.6H631.8"/></g><circle cx="618" cy="182.8" r="0.9" fill="#333"/><g stroke="#333" stroke-width="1" fill="none"><path d="M661.7,145V162.5M661.7,193.6V203.7"/><path d="M654.7,145H668.7M654.7,203.7H668.7"/><rect x="647.9" y="162.5" width="27.6" height="31.1" fill="#f2a872"/><path d="M647.9,179.9H675.5"/></g><circle cx="661.7" cy="176.7" r="0.9" fill="#333"/><g font-family="Liberation Sans, sans-serif" fill="#111"><rect x="553.3" y="258.9" width="130.7" height="92.5" fill="none" stroke="#666" stroke-width="1"/><path d="M549,258.9H553.3" stroke="#666" stroke-width="1"/><text transform="translate(545.6 263.6) scale(1 1.05)" font-size="14.4" text-anchor="end" >3.0</text><path d="M549,277.4H553.3" stroke="#666" stroke-width="1"/><text transform="translate(545.6 282.1) scale(1 1.05)" font-size="14.4" text-anchor="end" >1.5</text><path d="M549,295.9H553.3" stroke="#666" stroke-width="1"/><text transform="translate(545.6 300.6) scale(1 1.05)" font-size="14.4" text-anchor="end" >0.0</text><path d="M549,314.4H553.3" stroke="#666" stroke-width="1"/><text transform="translate(545.6 319.1) scale(1 1.05)" font-size="14.4" text-anchor="end" >−1.5</text><path d="M549,332.9H553.3" stroke="#666" stroke-width="1"/><text transform="translate(545.6 337.6) scale(1 1.05)" font-size="14.4" text-anchor="end" >−3.0</text><path d="M549,351.4H553.3" stroke="#666" stroke-width="1"/><text transform="translate(545.6 356.1) scale(1 1.05)" font-size="14.4" text-anchor="end" >−4.5</text><path d="M575,351.4V355.4" stroke="#666" stroke-width="1"/><path d="M618,351.4V355.4" stroke="#666" stroke-width="1"/><path d="M661.7,351.4V355.4" stroke="#666" stroke-width="1"/></g><g stroke="#333" stroke-width="1" fill="none"><path d="M575,276V292.1M575,303.4V320.5"/><path d="M568,276H582M568,320.5H582"/><rect x="561.2" y="292.1" width="27.6" height="11.3" fill="#86dcf4"/><path d="M561.2,297.4H588.8"/></g><circle cx="575" cy="297.8" r="0.9" fill="#333"/><circle cx="575" cy="272.8" r="1.65" fill="#111"/><circle cx="575" cy="323.2" r="1.65" fill="#111"/><circle cx="575" cy="325.2" r="1.65" fill="#111"/><circle cx="575" cy="333.3" r="1.65" fill="#111"/><g stroke="#333" stroke-width="1" fill="none"><path d="M618,276.4V287.3M618,297.2V307.3"/><path d="M611,276.4H625M611,307.3H625"/><rect x="604.2" y="287.3" width="27.6" height="9.9" fill="#a8a8a8"/><path d="M604.2,292.1H631.8"/></g><circle cx="618" cy="292.5" r="0.9" fill="#333"/><circle cx="618" cy="314" r="1.65" fill="#111"/><g stroke="#333" stroke-width="1" fill="none"><path d="M661.7,272.3V280M661.7,289.5V298.4"/><path d="M654.7,272.3H668.7M654.7,298.4H668.7"/><rect x="647.9" y="280" width="27.6" height="9.5" fill="#f2a872"/><path d="M647.9,284.6H675.5"/></g><circle cx="661.7" cy="284.8" r="0.9" fill="#333"/><circle cx="661.7" cy="267" r="1.65" fill="#111"/><g font-family="Liberation Sans, sans-serif" fill="#111"><rect x="553.3" y="381.2" width="130.7" height="92.5" fill="none" stroke="#666" stroke-width="1"/><path d="M549,381.2H553.3" stroke="#666" stroke-width="1"/><text transform="translate(545.6 385.9) scale(1 1.05)" font-size="14.4" text-anchor="end" >3</text><path d="M549,396.6H553.3" stroke="#666" stroke-width="1"/><text transform="translate(545.6 401.3) scale(1 1.05)" font-size="14.4" text-anchor="end" >2</text><path d="M549,412H553.3" stroke="#666" stroke-width="1"/><text transform="translate(545.6 416.7) scale(1 1.05)" font-size="14.4" text-anchor="end" >1</text><path d="M549,427.4H553.3" stroke="#666" stroke-width="1"/><text transform="translate(545.6 432.1) scale(1 1.05)" font-size="14.4" text-anchor="end" >0</text><path d="M549,442.9H553.3" stroke="#666" stroke-width="1"/><text transform="translate(545.6 447.6) scale(1 1.05)" font-size="14.4" text-anchor="end" >−1</text><path d="M549,458.3H553.3" stroke="#666" stroke-width="1"/><text transform="translate(545.6 463) scale(1 1.05)" font-size="14.4" text-anchor="end" >−2</text><path d="M549,473.7H553.3" stroke="#666" stroke-width="1"/><text transform="translate(545.6 478.4) scale(1 1.05)" font-size="14.4" text-anchor="end" >−3</text><path d="M575,473.7V477.7" stroke="#666" stroke-width="1"/><path d="M618,473.7V477.7" stroke="#666" stroke-width="1"/><path d="M661.7,473.7V477.7" stroke="#666" stroke-width="1"/></g><g stroke="#333" stroke-width="1" fill="none"><path d="M575,397.3V418.6M575,443.6V458.3"/><path d="M568,397.3H582M568,458.3H582"/><rect x="561.2" y="418.6" width="27.6" height="25" fill="#86dcf4"/><path d="M561.2,432.3H588.8"/></g><circle cx="575" cy="430.6" r="0.9" fill="#333"/><g stroke="#333" stroke-width="1" fill="none"><path d="M618,410.6V414.2M618,425.5V430.4"/><path d="M611,410.6H625M611,430.4H625"/><rect x="604.2" y="414.2" width="27.6" height="11.3" fill="#a8a8a8"/><path d="M604.2,421.4H631.8"/></g><circle cx="618" cy="420.2" r="0.9" fill="#333"/><g stroke="#333" stroke-width="1" fill="none"><path d="M661.7,402.4V404.3M661.7,409.6V411.6"/><path d="M654.7,402.4H668.7M654.7,411.6H668.7"/><rect x="647.9" y="404.3" width="27.6" height="5.3" fill="#f2a872"/><path d="M647.9,407.2H675.5"/></g><circle cx="661.7" cy="406.8" r="0.9" fill="#333"/><g font-family="Liberation Sans, sans-serif" fill="#111"><rect x="553.3" y="503.6" width="130.7" height="92.5" fill="none" stroke="#666" stroke-width="1"/><path d="M549,503.6H553.3" stroke="#666" stroke-width="1"/><text transform="translate(545.6 508.3) scale(1 1.05)" font-size="14.4" text-anchor="end" >0.4</text><path d="M549,531H553.3" stroke="#666" stroke-width="1"/><text transform="translate(545.6 535.7) scale(1 1.05)" font-size="14.4" text-anchor="end" >0.2</text><path d="M549,558.4H553.3" stroke="#666" stroke-width="1"/><text transform="translate(545.6 563.1) scale(1 1.05)" font-size="14.4" text-anchor="end" >0.0</text><path d="M549,585.8H553.3" stroke="#666" stroke-width="1"/><text transform="translate(545.6 590.5) scale(1 1.05)" font-size="14.4" text-anchor="end" >−0.2</text><path d="M571.4,596.1V600.1" stroke="#666" stroke-width="1"/><text transform="translate(569.2 612.5) scale(1 1.05)" font-size="14" text-anchor="middle" >−4</text><path d="M594.9,596.1V600.1" stroke="#666" stroke-width="1"/><text transform="translate(592.7 612.5) scale(1 1.05)" font-size="14" text-anchor="middle" >−2</text><path d="M618.5,596.1V600.1" stroke="#666" stroke-width="1"/><text transform="translate(618.5 612.5) scale(1 1.05)" font-size="14" text-anchor="middle" >0</text><path d="M642.1,596.1V600.1" stroke="#666" stroke-width="1"/><text transform="translate(642.1 612.5) scale(1 1.05)" font-size="14" text-anchor="middle" >2</text><path d="M665.6,596.1V600.1" stroke="#666" stroke-width="1"/><text transform="translate(665.6 612.5) scale(1 1.05)" font-size="14" text-anchor="middle" >4</text></g><rect x="555" y="558.3" width="9.3" height="20.5" fill="#f0c99b" stroke="#333" stroke-width="0.9"/><rect x="566.7" y="558.3" width="9.3" height="9.7" fill="#f0c99b" stroke="#333" stroke-width="0.9"/><rect x="578.5" y="558.3" width="9.3" height="8.9" fill="#f0c99b" stroke="#333" stroke-width="0.9"/><rect x="590.3" y="558.3" width="9.3" height="11.1" fill="#f0c99b" stroke="#333" stroke-width="0.9"/><rect x="602.1" y="558.3" width="9.3" height="14.2" fill="#f0c99b" stroke="#333" stroke-width="0.9"/><rect x="613.9" y="558.3" width="9.3" height="19.3" fill="#f0c99b" stroke="#333" stroke-width="0.9"/><rect x="625.6" y="558.3" width="9.3" height="24.4" fill="#f0c99b" stroke="#333" stroke-width="0.9"/><rect x="637.4" y="558.3" width="9.3" height="32.1" fill="#f0c99b" stroke="#333" stroke-width="0.9"/><rect x="649.2" y="558.3" width="9.3" height="16.2" fill="#f0c99b" stroke="#333" stroke-width="0.9"/><rect x="661" y="558.3" width="9.3" height="20" fill="#f0c99b" stroke="#333" stroke-width="0.9"/><rect x="672.8" y="558.3" width="9.3" height="19.3" fill="#f0c99b" stroke="#333" stroke-width="0.9"/><path d="M553.3,558.3H684" stroke="#222" stroke-width="1.1"/><path d="M553.5,579C556.2,579.1 563.9,579.5 570,579.6C576.1,579.7 583.3,579.8 590,579.8C596.7,579.8 603.3,579.3 610,579.3C616.7,579.3 623.3,579.8 630,579.8C636.7,579.8 643.3,579.3 650,579.3C656.7,579.3 664.3,579.8 670,579.9C675.7,580 681.7,579.6 684,579.6" fill="none" stroke="#555" stroke-width="1.2"/><path d="M553.5,585.8C556.2,585.9 563.9,586.2 570,586.3C576.1,586.4 584.2,586.7 590,586.6C595.8,586.5 600.3,585.6 605,585.5C609.7,585.4 613.5,586.2 618,586.2C622.5,586.2 626.7,585.2 632,585.2C637.3,585.2 643.7,585.7 650,585.9C656.3,586.1 664.3,586.5 670,586.5C675.7,586.5 681.7,586.2 684,586.2" fill="none" stroke="#ef8a3e" stroke-width="1.7"/><rect x="580" y="506.5" width="9.8" height="7.3" fill="#f0c99b" stroke="#333" stroke-width="0.7"/><g font-family="Liberation Sans, sans-serif" fill="#111"><text transform="translate(595.5 512.7) scale(1 1.05)" font-size="7.6" text-anchor="start" >Temperature (°C)</text><path d="M579.3,519.1H590.9" stroke="#555" stroke-width="1.5"/><text transform="translate(595.5 521.6) scale(1 1.05)" font-size="7.6" text-anchor="start" >95%</text><path d="M612.8,519.1H624" stroke="#f08a3c" stroke-width="1.5"/><text transform="translate(628.6 521.6) scale(1 1.05)" font-size="7.6" text-anchor="start" >99%</text></g><g font-family="Liberation Sans, sans-serif" fill="#111"><text transform="translate(575 126.6) scale(1 1.05)" font-size="11.6" text-anchor="middle" >PI 1</text><text transform="translate(618 126.6) scale(1 1.05)" font-size="11.6" text-anchor="middle" >PI 2</text><text transform="translate(661.7 126.6) scale(1 1.05)" font-size="11.6" text-anchor="middle" >Modern</text><text transform="translate(575 248.5) scale(1 1.05)" font-size="11.6" text-anchor="middle" >PI 1</text><text transform="translate(618 248.5) scale(1 1.05)" font-size="11.6" text-anchor="middle" >PI 2</text><text transform="translate(661.7 248.5) scale(1 1.05)" font-size="11.6" text-anchor="middle" >Modern</text><text transform="translate(575 370.8) scale(1 1.05)" font-size="11.6" text-anchor="middle" >PI 1</text><text transform="translate(618 370.8) scale(1 1.05)" font-size="11.6" text-anchor="middle" >PI 2</text><text transform="translate(661.7 370.8) scale(1 1.05)" font-size="11.6" text-anchor="middle" >Modern</text><text transform="translate(575 493.3) scale(1 1.05)" font-size="11.6" text-anchor="middle" >PI 1</text><text transform="translate(618 493.3) scale(1 1.05)" font-size="11.6" text-anchor="middle" >PI 2</text><text transform="translate(661.7 493.3) scale(1 1.05)" font-size="11.6" text-anchor="middle" >Modern</text><text transform="translate(519 10.2) scale(1 1.05)" font-size="14" text-anchor="start" >f</text><text transform="translate(517.2 127.6) scale(1 1.05)" font-size="14" text-anchor="start" >g</text><text transform="translate(517 250.2) scale(1 1.05)" font-size="14" text-anchor="start" >h</text><text transform="translate(519 371.4) scale(1 1.05)" font-size="14" text-anchor="start" >i</text><text transform="translate(519.6 490.4) scale(1 1.05)" font-size="14" text-anchor="start" >j</text><text x="0" y="0" font-size="13.7" text-anchor="middle" transform="translate(510.5 60.8) rotate(-90)">Temperature (°C)</text><text x="0" y="0" font-size="13.3" text-anchor="middle" transform="translate(510.5 182.1) rotate(-90)">Temperature anom(°C)</text><text x="0" y="0" font-size="13.5" text-anchor="middle" transform="translate(510.5 302.5) rotate(-90)">Temperature (°C)</text><text x="0" y="0" font-size="13.1" text-anchor="middle" transform="translate(510.5 424.7) rotate(-90)">TSI anomaly (W/m<tspan font-size="9" dy="-4">3</tspan><tspan dy="4">)</tspan></text><text x="0" y="0" font-size="13.5" text-anchor="middle" transform="translate(510.5 549) rotate(-90)">Temperature (°C)</text><text transform="translate(591 637.6) scale(1 1.05)" font-size="15" text-anchor="middle" >Years relative to event year</text></g></svg></body></html>
